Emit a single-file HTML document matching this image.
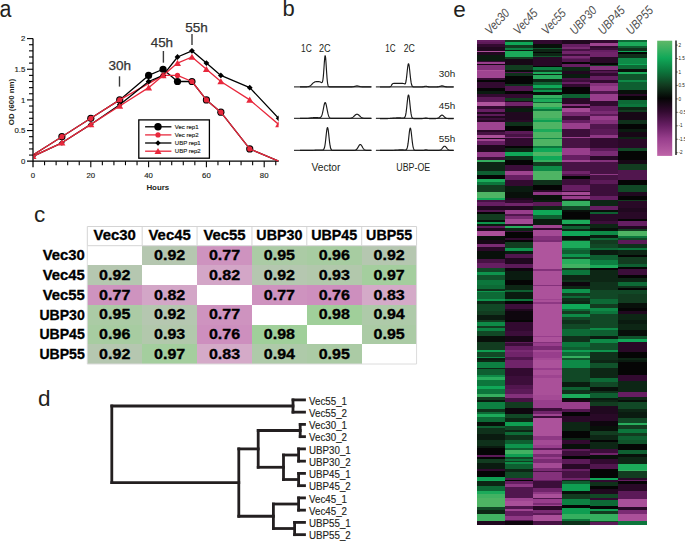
<!DOCTYPE html>
<html><head><meta charset="utf-8"><style>
html,body{margin:0;padding:0;background:#fff;}
svg{display:block;font-family:"Liberation Sans", sans-serif;}
</style></head><body>
<svg width="685" height="542" viewBox="0 0 685 542">
<rect x="0" y="0" width="685" height="542" fill="#fff"/>
<text x="-0.40" y="16.60" font-size="23" fill="#231f20" font-weight="normal" text-anchor="start" textLength="11.9" lengthAdjust="spacingAndGlyphs" >a</text>
<text x="282.60" y="15.80" font-size="22" fill="#231f20" font-weight="normal" text-anchor="start" >b</text>
<text x="34.00" y="221.60" font-size="22.5" fill="#231f20" font-weight="normal" text-anchor="start" >c</text>
<text x="38.00" y="406.00" font-size="22.5" fill="#231f20" font-weight="normal" text-anchor="start" >d</text>
<text x="453.20" y="16.50" font-size="22.5" fill="#231f20" font-weight="normal" text-anchor="start" >e</text>
<line x1="33.0" y1="38.60" x2="33.0" y2="167.20" stroke="#000" stroke-width="1.25"/>
<line x1="27.0" y1="161.2" x2="278.65" y2="161.2" stroke="#000" stroke-width="1.25"/>
<line x1="29.0" y1="155.07" x2="33.0" y2="155.07" stroke="#000" stroke-width="1.1"/>
<line x1="29.0" y1="148.94" x2="33.0" y2="148.94" stroke="#000" stroke-width="1.1"/>
<line x1="29.0" y1="142.81" x2="33.0" y2="142.81" stroke="#000" stroke-width="1.1"/>
<line x1="29.0" y1="136.68" x2="33.0" y2="136.68" stroke="#000" stroke-width="1.1"/>
<line x1="27.0" y1="130.55" x2="33.0" y2="130.55" stroke="#000" stroke-width="1.1"/>
<line x1="29.0" y1="124.42" x2="33.0" y2="124.42" stroke="#000" stroke-width="1.1"/>
<line x1="29.0" y1="118.29" x2="33.0" y2="118.29" stroke="#000" stroke-width="1.1"/>
<line x1="29.0" y1="112.16" x2="33.0" y2="112.16" stroke="#000" stroke-width="1.1"/>
<line x1="29.0" y1="106.03" x2="33.0" y2="106.03" stroke="#000" stroke-width="1.1"/>
<line x1="27.0" y1="99.90" x2="33.0" y2="99.90" stroke="#000" stroke-width="1.1"/>
<line x1="29.0" y1="93.77" x2="33.0" y2="93.77" stroke="#000" stroke-width="1.1"/>
<line x1="29.0" y1="87.64" x2="33.0" y2="87.64" stroke="#000" stroke-width="1.1"/>
<line x1="29.0" y1="81.51" x2="33.0" y2="81.51" stroke="#000" stroke-width="1.1"/>
<line x1="29.0" y1="75.38" x2="33.0" y2="75.38" stroke="#000" stroke-width="1.1"/>
<line x1="27.0" y1="69.25" x2="33.0" y2="69.25" stroke="#000" stroke-width="1.1"/>
<line x1="29.0" y1="63.12" x2="33.0" y2="63.12" stroke="#000" stroke-width="1.1"/>
<line x1="29.0" y1="56.99" x2="33.0" y2="56.99" stroke="#000" stroke-width="1.1"/>
<line x1="29.0" y1="50.86" x2="33.0" y2="50.86" stroke="#000" stroke-width="1.1"/>
<line x1="29.0" y1="44.73" x2="33.0" y2="44.73" stroke="#000" stroke-width="1.1"/>
<line x1="27.0" y1="38.60" x2="33.0" y2="38.60" stroke="#000" stroke-width="1.1"/>
<line x1="44.56" y1="161.2" x2="44.56" y2="165.2" stroke="#000" stroke-width="1.1"/>
<line x1="56.12" y1="161.2" x2="56.12" y2="165.2" stroke="#000" stroke-width="1.1"/>
<line x1="67.68" y1="161.2" x2="67.68" y2="165.2" stroke="#000" stroke-width="1.1"/>
<line x1="79.24" y1="161.2" x2="79.24" y2="165.2" stroke="#000" stroke-width="1.1"/>
<line x1="90.80" y1="161.2" x2="90.80" y2="167.2" stroke="#000" stroke-width="1.1"/>
<line x1="102.36" y1="161.2" x2="102.36" y2="165.2" stroke="#000" stroke-width="1.1"/>
<line x1="113.92" y1="161.2" x2="113.92" y2="165.2" stroke="#000" stroke-width="1.1"/>
<line x1="125.48" y1="161.2" x2="125.48" y2="165.2" stroke="#000" stroke-width="1.1"/>
<line x1="137.04" y1="161.2" x2="137.04" y2="165.2" stroke="#000" stroke-width="1.1"/>
<line x1="148.60" y1="161.2" x2="148.60" y2="167.2" stroke="#000" stroke-width="1.1"/>
<line x1="160.16" y1="161.2" x2="160.16" y2="165.2" stroke="#000" stroke-width="1.1"/>
<line x1="171.72" y1="161.2" x2="171.72" y2="165.2" stroke="#000" stroke-width="1.1"/>
<line x1="183.28" y1="161.2" x2="183.28" y2="165.2" stroke="#000" stroke-width="1.1"/>
<line x1="194.84" y1="161.2" x2="194.84" y2="165.2" stroke="#000" stroke-width="1.1"/>
<line x1="206.40" y1="161.2" x2="206.40" y2="167.2" stroke="#000" stroke-width="1.1"/>
<line x1="217.96" y1="161.2" x2="217.96" y2="165.2" stroke="#000" stroke-width="1.1"/>
<line x1="229.52" y1="161.2" x2="229.52" y2="165.2" stroke="#000" stroke-width="1.1"/>
<line x1="241.08" y1="161.2" x2="241.08" y2="165.2" stroke="#000" stroke-width="1.1"/>
<line x1="252.64" y1="161.2" x2="252.64" y2="165.2" stroke="#000" stroke-width="1.1"/>
<line x1="264.20" y1="161.2" x2="264.20" y2="167.2" stroke="#000" stroke-width="1.1"/>
<line x1="275.76" y1="161.2" x2="275.76" y2="165.2" stroke="#000" stroke-width="1.1"/>
<text x="25.30" y="164.00" font-size="7.8" fill="#231f20" font-weight="normal" text-anchor="end" stroke="#231f20" stroke-width="0.15">0</text>
<text x="25.30" y="133.35" font-size="7.8" fill="#231f20" font-weight="normal" text-anchor="end" stroke="#231f20" stroke-width="0.15">0.5</text>
<text x="25.30" y="102.70" font-size="7.8" fill="#231f20" font-weight="normal" text-anchor="end" stroke="#231f20" stroke-width="0.15">1</text>
<text x="25.30" y="72.05" font-size="7.8" fill="#231f20" font-weight="normal" text-anchor="end" stroke="#231f20" stroke-width="0.15">1.5</text>
<text x="25.30" y="41.40" font-size="7.8" fill="#231f20" font-weight="normal" text-anchor="end" stroke="#231f20" stroke-width="0.15">2</text>
<text x="33.00" y="177.50" font-size="7.8" fill="#231f20" font-weight="normal" text-anchor="middle" stroke="#231f20" stroke-width="0.15">0</text>
<text x="90.80" y="177.50" font-size="7.8" fill="#231f20" font-weight="normal" text-anchor="middle" stroke="#231f20" stroke-width="0.15">20</text>
<text x="148.60" y="177.50" font-size="7.8" fill="#231f20" font-weight="normal" text-anchor="middle" stroke="#231f20" stroke-width="0.15">40</text>
<text x="206.40" y="177.50" font-size="7.8" fill="#231f20" font-weight="normal" text-anchor="middle" stroke="#231f20" stroke-width="0.15">60</text>
<text x="264.20" y="177.50" font-size="7.8" fill="#231f20" font-weight="normal" text-anchor="middle" stroke="#231f20" stroke-width="0.15">80</text>
<text x="157.80" y="190.00" font-size="7.9" fill="#231f20" font-weight="bold" text-anchor="middle" >Hours</text>
<text transform="translate(13.6,102) rotate(-90)" x="0" y="0" font-size="7.9" font-weight="bold" fill="#231f20" text-anchor="middle">OD (600 nm)</text>
<text x="108.40" y="70.20" font-size="13" fill="#333333" font-weight="normal" text-anchor="start" textLength="22.6" lengthAdjust="spacingAndGlyphs" stroke="#333333" stroke-width="0.25">30h</text>
<text x="150.70" y="46.90" font-size="13" fill="#333333" font-weight="normal" text-anchor="start" textLength="22.4" lengthAdjust="spacingAndGlyphs" stroke="#333333" stroke-width="0.25">45h</text>
<text x="185.30" y="31.60" font-size="13" fill="#333333" font-weight="normal" text-anchor="start" textLength="22.6" lengthAdjust="spacingAndGlyphs" stroke="#333333" stroke-width="0.25">55h</text>
<line x1="119.5" y1="76.3" x2="119.5" y2="86.6" stroke="#3a3a3a" stroke-width="1.4"/>
<line x1="163.4" y1="51.0" x2="163.4" y2="62.7" stroke="#3a3a3a" stroke-width="1.4"/>
<line x1="192.0" y1="33.9" x2="192.0" y2="45.1" stroke="#3a3a3a" stroke-width="1.4"/>
<defs><clipPath id="pa"><rect x="33.6" y="0" width="245.0" height="200"/></clipPath></defs>
<g clip-path="url(#pa)">
<polyline points="33.00,155.07 61.90,136.68 90.80,118.29 119.70,99.90 148.60,75.38 163.05,69.25 177.50,81.51 191.95,81.51 206.40,99.90 220.85,112.16 249.75,148.94 278.65,161.20" fill="none" stroke="#000" stroke-width="1.3" stroke-linejoin="round"/>
<circle cx="61.90" cy="136.68" r="3.6" fill="#000"/>
<circle cx="90.80" cy="118.29" r="3.6" fill="#000"/>
<circle cx="119.70" cy="99.90" r="3.6" fill="#000"/>
<circle cx="148.60" cy="75.38" r="3.6" fill="#000"/>
<circle cx="163.05" cy="69.25" r="3.6" fill="#000"/>
<circle cx="177.50" cy="81.51" r="3.6" fill="#000"/>
<circle cx="191.95" cy="81.51" r="3.6" fill="#000"/>
<circle cx="206.40" cy="99.90" r="3.6" fill="#000"/>
<circle cx="220.85" cy="112.16" r="3.6" fill="#000"/>
<circle cx="249.75" cy="148.94" r="3.6" fill="#000"/>
<polyline points="33.00,155.07 61.90,136.68 90.80,118.29 119.70,99.90 163.05,75.38 177.50,75.38 191.95,81.51 206.40,99.90 220.85,112.16 249.75,148.94 278.65,161.20" fill="none" stroke="#e8283c" stroke-width="1.3" stroke-linejoin="round"/>
<circle cx="61.90" cy="136.68" r="2.6" fill="#e8283c"/>
<circle cx="90.80" cy="118.29" r="2.6" fill="#e8283c"/>
<circle cx="119.70" cy="99.90" r="2.6" fill="#e8283c"/>
<circle cx="163.05" cy="75.38" r="2.6" fill="#e8283c"/>
<circle cx="177.50" cy="75.38" r="2.6" fill="#e8283c"/>
<circle cx="191.95" cy="81.51" r="2.6" fill="#e8283c"/>
<circle cx="206.40" cy="99.90" r="2.6" fill="#e8283c"/>
<circle cx="220.85" cy="112.16" r="2.6" fill="#e8283c"/>
<circle cx="249.75" cy="148.94" r="2.6" fill="#e8283c"/>
<polyline points="33.00,156.30 61.90,142.81 90.80,124.42 119.70,104.80 148.60,81.51 163.05,75.38 177.50,56.99 191.95,50.86 206.40,63.12 220.85,75.38 249.75,87.64 278.65,118.29" fill="none" stroke="#000" stroke-width="1.3" stroke-linejoin="round"/>
<path d="M33.00,153.40 L35.90,156.30 L33.00,159.20 L30.10,156.30 Z" fill="#000"/>
<path d="M61.90,139.91 L64.80,142.81 L61.90,145.71 L59.00,142.81 Z" fill="#000"/>
<path d="M90.80,121.52 L93.70,124.42 L90.80,127.32 L87.90,124.42 Z" fill="#000"/>
<path d="M119.70,101.90 L122.60,104.80 L119.70,107.70 L116.80,104.80 Z" fill="#000"/>
<path d="M148.60,78.61 L151.50,81.51 L148.60,84.41 L145.70,81.51 Z" fill="#000"/>
<path d="M163.05,72.48 L165.95,75.38 L163.05,78.28 L160.15,75.38 Z" fill="#000"/>
<path d="M177.50,54.09 L180.40,56.99 L177.50,59.89 L174.60,56.99 Z" fill="#000"/>
<path d="M191.95,47.96 L194.85,50.86 L191.95,53.76 L189.05,50.86 Z" fill="#000"/>
<path d="M206.40,60.22 L209.30,63.12 L206.40,66.02 L203.50,63.12 Z" fill="#000"/>
<path d="M220.85,72.48 L223.75,75.38 L220.85,78.28 L217.95,75.38 Z" fill="#000"/>
<path d="M249.75,84.74 L252.65,87.64 L249.75,90.54 L246.85,87.64 Z" fill="#000"/>
<path d="M278.65,115.39 L281.55,118.29 L278.65,121.19 L275.75,118.29 Z" fill="#000"/>
<polyline points="33.00,156.30 61.90,142.81 90.80,124.42 119.70,106.03 148.60,87.64 163.05,75.38 177.50,63.12 191.95,56.99 206.40,69.25 220.85,81.51 249.75,99.90 278.65,124.42" fill="none" stroke="#e8283c" stroke-width="1.3" stroke-linejoin="round"/>
<path d="M33.00,153.00 L36.50,159.10 L29.50,159.10 Z" fill="#e8283c"/>
<path d="M61.90,139.51 L65.40,145.61 L58.40,145.61 Z" fill="#e8283c"/>
<path d="M90.80,121.12 L94.30,127.22 L87.30,127.22 Z" fill="#e8283c"/>
<path d="M119.70,102.73 L123.20,108.83 L116.20,108.83 Z" fill="#e8283c"/>
<path d="M148.60,84.34 L152.10,90.44 L145.10,90.44 Z" fill="#e8283c"/>
<path d="M163.05,72.08 L166.55,78.18 L159.55,78.18 Z" fill="#e8283c"/>
<path d="M177.50,59.82 L181.00,65.92 L174.00,65.92 Z" fill="#e8283c"/>
<path d="M191.95,53.69 L195.45,59.79 L188.45,59.79 Z" fill="#e8283c"/>
<path d="M206.40,65.95 L209.90,72.05 L202.90,72.05 Z" fill="#e8283c"/>
<path d="M220.85,78.21 L224.35,84.31 L217.35,84.31 Z" fill="#e8283c"/>
<path d="M249.75,96.60 L253.25,102.70 L246.25,102.70 Z" fill="#e8283c"/>
<path d="M278.65,121.12 L282.15,127.22 L275.15,127.22 Z" fill="#e8283c"/>
</g>
<rect x="138.8" y="119.9" width="70.6" height="38.3" fill="#fff" stroke="#000" stroke-width="1.3"/>
<line x1="145.1" y1="126.8" x2="171.4" y2="126.8" stroke="#000" stroke-width="1.3"/>
<circle cx="158" cy="126.8" r="3.7" fill="#000"/>
<text x="174.80" y="128.90" font-size="6.0" fill="#231f20" font-weight="normal" text-anchor="start" stroke="#231f20" stroke-width="0.15">Vec rep1</text>
<line x1="145.1" y1="134.9" x2="171.4" y2="134.9" stroke="#e8283c" stroke-width="1.3"/>
<circle cx="158" cy="134.9" r="2.6" fill="#e8283c"/>
<text x="174.80" y="137.00" font-size="6.0" fill="#231f20" font-weight="normal" text-anchor="start" stroke="#231f20" stroke-width="0.15">Vec rep2</text>
<line x1="145.1" y1="143.0" x2="171.4" y2="143.0" stroke="#000" stroke-width="1.3"/>
<path d="M158.00,140.30 L160.70,143.00 L158.00,145.70 L155.30,143.00 Z" fill="#000"/>
<text x="174.80" y="145.10" font-size="6.0" fill="#231f20" font-weight="normal" text-anchor="start" stroke="#231f20" stroke-width="0.15">UBP rep1</text>
<line x1="145.1" y1="151.2" x2="171.4" y2="151.2" stroke="#e8283c" stroke-width="1.3"/>
<path d="M158.00,147.90 L161.50,154.00 L154.50,154.00 Z" fill="#e8283c"/>
<text x="174.80" y="153.30" font-size="6.0" fill="#231f20" font-weight="normal" text-anchor="start" stroke="#231f20" stroke-width="0.15">UBP rep2</text>
<line x1="294" y1="86.9" x2="371.7" y2="86.9" stroke="#3c3c3c" stroke-width="1.3"/>
<line x1="375.9" y1="86.9" x2="453.8" y2="86.9" stroke="#3c3c3c" stroke-width="1.3"/>
<line x1="294" y1="118.4" x2="371.7" y2="118.4" stroke="#3c3c3c" stroke-width="1.3"/>
<line x1="375.9" y1="118.4" x2="453.8" y2="118.4" stroke="#3c3c3c" stroke-width="1.3"/>
<line x1="294" y1="150.4" x2="371.7" y2="150.4" stroke="#3c3c3c" stroke-width="1.3"/>
<line x1="375.9" y1="150.4" x2="453.8" y2="150.4" stroke="#3c3c3c" stroke-width="1.3"/>
<polyline points="300.00,86.90 300.33,86.90 300.67,86.90 301.00,86.90 301.33,86.90 301.67,86.90 302.00,86.90 302.33,86.90 302.67,86.90 303.00,86.89 303.33,86.89 303.67,86.89 304.00,86.89 304.33,86.88 304.67,86.88 305.00,86.87 305.33,86.87 305.67,86.86 306.00,86.85 306.33,86.83 306.67,86.81 307.00,86.78 307.33,86.75 307.67,86.71 308.00,86.66 308.33,86.59 308.67,86.51 309.00,86.40 309.33,86.27 309.67,86.12 310.00,85.93 310.33,85.71 310.67,85.45 311.00,85.16 311.33,84.84 311.67,84.50 312.00,84.15 312.33,83.80 312.67,83.46 313.00,83.14 313.33,82.85 313.67,82.60 314.00,82.38 314.33,82.19 314.67,82.03 315.00,81.91 315.33,81.81 315.67,81.73 316.00,81.67 316.33,81.62 316.67,81.59 317.00,81.57 317.33,81.56 317.67,81.56 318.00,81.57 318.33,81.59 318.67,81.62 319.00,81.67 319.33,81.73 319.67,81.81 320.00,81.91 320.33,82.03 320.67,82.18 321.00,82.34 321.33,82.49 321.67,82.58 322.00,82.51 322.33,82.10 322.67,81.11 323.00,79.26 323.33,76.33 323.67,72.30 324.00,67.46 324.33,62.49 324.67,58.32 325.00,55.89 325.33,55.82 325.67,58.18 326.00,62.46 326.33,67.74 326.67,73.07 327.00,77.70 327.33,81.25 327.67,83.70 328.00,85.21 328.33,86.07 328.67,86.51 329.00,86.72 329.33,86.81 329.67,86.85 330.00,86.87 330.33,86.88 330.67,86.88 331.00,86.89 331.33,86.89 331.67,86.89 332.00,86.89 332.33,86.90 332.67,86.90 333.00,86.90 333.33,86.90 333.67,86.90 334.00,86.90 334.33,86.90 334.67,86.90 335.00,86.90 335.33,86.90 335.67,86.90 336.00,86.90 336.33,86.90 336.67,86.90 337.00,86.90 337.33,86.90 337.67,86.90 338.00,86.90 338.33,86.90 338.67,86.90 339.00,86.90 339.33,86.90 339.67,86.90 340.00,86.90 340.33,86.90 340.67,86.90 341.00,86.90 341.33,86.90 341.67,86.90 342.00,86.90 342.33,86.90 342.67,86.90 343.00,86.90 343.33,86.90 343.67,86.90 344.00,86.90 344.33,86.90 344.67,86.90 345.00,86.90 345.33,86.90 345.67,86.90 346.00,86.90 346.33,86.90 346.67,86.90 347.00,86.90 347.33,86.90 347.67,86.90 348.00,86.90 348.33,86.90 348.67,86.90 349.00,86.90 349.33,86.90 349.67,86.90 350.00,86.90 350.33,86.90 350.67,86.89 351.00,86.89 351.33,86.88 351.67,86.87 352.00,86.86 352.33,86.83 352.67,86.80 353.00,86.76 353.33,86.71 353.67,86.65 354.00,86.58 354.33,86.49 354.67,86.39 355.00,86.29 355.33,86.19 355.67,86.10 356.00,86.02 356.33,85.95 356.67,85.91 357.00,85.90 357.33,85.91 357.67,85.95 358.00,86.02 358.33,86.10 358.67,86.19 359.00,86.29 359.33,86.39 359.67,86.49 360.00,86.58 360.33,86.65 360.67,86.71 361.00,86.76 361.33,86.80 361.67,86.83 362.00,86.86 362.33,86.87 362.67,86.88 363.00,86.89 363.33,86.89 363.67,86.90 364.00,86.90 364.33,86.90 364.67,86.90 365.00,86.90 365.33,86.90 365.67,86.90 366.00,86.90 366.33,86.90 366.67,86.90 367.00,86.90 367.33,86.90 367.67,86.90 368.00,86.90 368.33,86.90 368.67,86.90 369.00,86.90 369.33,86.90 369.67,86.90 370.00,86.90 370.33,86.90 370.67,86.90 371.00,86.90" fill="none" stroke="#1a1a1a" stroke-width="1.15" stroke-linejoin="round"/>
<polyline points="300.00,118.40 300.33,118.40 300.67,118.40 301.00,118.40 301.33,118.40 301.67,118.40 302.00,118.40 302.33,118.40 302.67,118.39 303.00,118.39 303.33,118.39 303.67,118.39 304.00,118.39 304.33,118.38 304.67,118.38 305.00,118.37 305.33,118.37 305.67,118.36 306.00,118.35 306.33,118.34 306.67,118.32 307.00,118.30 307.33,118.28 307.67,118.26 308.00,118.23 308.33,118.20 308.67,118.17 309.00,118.13 309.33,118.09 309.67,118.04 310.00,118.00 310.33,117.96 310.67,117.91 311.00,117.87 311.33,117.83 311.67,117.80 312.00,117.77 312.33,117.74 312.67,117.72 313.00,117.70 313.33,117.68 313.67,117.67 314.00,117.66 314.33,117.65 314.67,117.65 315.00,117.64 315.33,117.64 315.67,117.64 316.00,117.64 316.33,117.65 316.67,117.65 317.00,117.66 317.33,117.67 317.67,117.68 318.00,117.69 318.33,117.71 318.67,117.72 319.00,117.73 319.33,117.72 319.67,117.69 320.00,117.63 320.33,117.50 320.67,117.29 321.00,116.96 321.33,116.47 321.67,115.79 322.00,114.88 322.33,113.72 322.67,112.33 323.00,110.75 323.33,109.03 323.67,107.29 324.00,105.65 324.33,104.25 324.67,103.21 325.00,102.65 325.33,102.60 325.67,103.09 326.00,104.06 326.33,105.42 326.67,107.05 327.00,108.80 327.33,110.56 327.67,112.21 328.00,113.68 328.33,114.92 328.67,115.92 329.00,116.69 329.33,117.27 329.67,117.67 330.00,117.95 330.33,118.13 330.67,118.24 331.00,118.31 331.33,118.35 331.67,118.37 332.00,118.39 332.33,118.39 332.67,118.40 333.00,118.40 333.33,118.40 333.67,118.40 334.00,118.40 334.33,118.40 334.67,118.40 335.00,118.40 335.33,118.40 335.67,118.40 336.00,118.40 336.33,118.40 336.67,118.40 337.00,118.40 337.33,118.40 337.67,118.40 338.00,118.40 338.33,118.40 338.67,118.40 339.00,118.40 339.33,118.40 339.67,118.40 340.00,118.40 340.33,118.40 340.67,118.40 341.00,118.40 341.33,118.40 341.67,118.40 342.00,118.40 342.33,118.40 342.67,118.40 343.00,118.40 343.33,118.40 343.67,118.40 344.00,118.40 344.33,118.40 344.67,118.40 345.00,118.40 345.33,118.40 345.67,118.40 346.00,118.40 346.33,118.40 346.67,118.40 347.00,118.40 347.33,118.40 347.67,118.39 348.00,118.39 348.33,118.38 348.67,118.38 349.00,118.36 349.33,118.35 349.67,118.32 350.00,118.29 350.33,118.24 350.67,118.18 351.00,118.11 351.33,118.01 351.67,117.89 352.00,117.74 352.33,117.56 352.67,117.35 353.00,117.11 353.33,116.85 353.67,116.55 354.00,116.24 354.33,115.92 354.67,115.59 355.00,115.28 355.33,114.98 355.67,114.72 356.00,114.50 356.33,114.34 356.67,114.23 357.00,114.20 357.33,114.23 357.67,114.34 358.00,114.50 358.33,114.72 358.67,114.98 359.00,115.28 359.33,115.59 359.67,115.92 360.00,116.24 360.33,116.55 360.67,116.85 361.00,117.11 361.33,117.35 361.67,117.56 362.00,117.74 362.33,117.89 362.67,118.01 363.00,118.11 363.33,118.18 363.67,118.24 364.00,118.29 364.33,118.32 364.67,118.35 365.00,118.36 365.33,118.38 365.67,118.38 366.00,118.39 366.33,118.39 366.67,118.40 367.00,118.40 367.33,118.40 367.67,118.40 368.00,118.40 368.33,118.40 368.67,118.40 369.00,118.40 369.33,118.40 369.67,118.40 370.00,118.40 370.33,118.40 370.67,118.40 371.00,118.40" fill="none" stroke="#1a1a1a" stroke-width="1.15" stroke-linejoin="round"/>
<polyline points="300.00,150.40 300.33,150.40 300.67,150.40 301.00,150.40 301.33,150.40 301.67,150.40 302.00,150.40 302.33,150.40 302.67,150.40 303.00,150.40 303.33,150.40 303.67,150.40 304.00,150.40 304.33,150.40 304.67,150.40 305.00,150.40 305.33,150.40 305.67,150.40 306.00,150.40 306.33,150.40 306.67,150.40 307.00,150.40 307.33,150.40 307.67,150.40 308.00,150.40 308.33,150.39 308.67,150.39 309.00,150.39 309.33,150.39 309.67,150.39 310.00,150.38 310.33,150.38 310.67,150.37 311.00,150.37 311.33,150.36 311.67,150.35 312.00,150.34 312.33,150.33 312.67,150.31 313.00,150.30 313.33,150.28 313.67,150.25 314.00,150.23 314.33,150.20 314.67,150.18 315.00,150.15 315.33,150.12 315.67,150.10 316.00,150.07 316.33,150.05 316.67,150.03 317.00,150.01 317.33,149.99 317.67,149.98 318.00,149.97 318.33,149.96 318.67,149.95 319.00,149.95 319.33,149.95 319.67,149.95 320.00,149.95 320.33,149.95 320.67,149.96 321.00,149.97 321.33,149.98 321.67,149.98 322.00,149.99 322.33,149.99 322.67,149.96 323.00,149.89 323.33,149.73 323.67,149.43 324.00,148.91 324.33,148.07 324.67,146.81 325.00,145.05 325.33,142.76 325.67,139.98 326.00,136.88 326.33,133.75 326.67,130.91 327.00,128.76 327.33,127.60 327.67,127.61 328.00,128.79 328.33,130.96 328.67,133.81 329.00,136.97 329.33,140.09 329.67,142.89 330.00,145.21 330.33,147.00 330.67,148.28 331.00,149.15 331.33,149.70 331.67,150.03 332.00,150.21 332.33,150.31 332.67,150.36 333.00,150.38 333.33,150.39 333.67,150.40 334.00,150.40 334.33,150.40 334.67,150.40 335.00,150.40 335.33,150.40 335.67,150.40 336.00,150.40 336.33,150.40 336.67,150.40 337.00,150.40 337.33,150.40 337.67,150.40 338.00,150.40 338.33,150.40 338.67,150.40 339.00,150.40 339.33,150.40 339.67,150.40 340.00,150.40 340.33,150.40 340.67,150.40 341.00,150.40 341.33,150.40 341.67,150.40 342.00,150.40 342.33,150.40 342.67,150.40 343.00,150.40 343.33,150.40 343.67,150.40 344.00,150.40 344.33,150.40 344.67,150.40 345.00,150.40 345.33,150.40 345.67,150.40 346.00,150.40 346.33,150.40 346.67,150.40 347.00,150.40 347.33,150.40 347.67,150.40 348.00,150.40 348.33,150.40 348.67,150.40 349.00,150.40 349.33,150.40 349.67,150.40 350.00,150.40 350.33,150.40 350.67,150.40 351.00,150.40 351.33,150.40 351.67,150.40 352.00,150.40 352.33,150.40 352.67,150.40 353.00,150.39 353.33,150.39 353.67,150.38 354.00,150.36 354.33,150.33 354.67,150.29 355.00,150.22 355.33,150.13 355.67,150.00 356.00,149.82 356.33,149.57 356.67,149.27 357.00,148.89 357.33,148.44 357.67,147.92 358.00,147.35 358.33,146.76 358.67,146.17 359.00,145.62 359.33,145.15 359.67,144.79 360.00,144.57 360.33,144.50 360.67,144.60 361.00,144.85 361.33,145.24 361.67,145.73 362.00,146.29 362.33,146.88 362.67,147.47 363.00,148.03 363.33,148.53 363.67,148.97 364.00,149.33 364.33,149.63 364.67,149.86 365.00,150.03 365.33,150.15 365.67,150.24 366.00,150.30 366.33,150.34 366.67,150.36 367.00,150.38 367.33,150.39 367.67,150.39 368.00,150.40 368.33,150.40 368.67,150.40 369.00,150.40 369.33,150.40 369.67,150.40 370.00,150.40 370.33,150.40 370.67,150.40 371.00,150.40" fill="none" stroke="#1a1a1a" stroke-width="1.15" stroke-linejoin="round"/>
<polyline points="380.00,87.00 380.33,87.00 380.67,87.00 381.00,87.00 381.34,87.00 381.67,87.00 382.00,87.00 382.34,87.00 382.67,87.00 383.01,87.00 383.34,87.00 383.68,87.00 384.01,87.00 384.34,87.00 384.68,87.00 385.01,87.00 385.35,87.00 385.68,87.00 386.01,87.00 386.35,87.00 386.68,87.00 387.02,87.00 387.35,87.00 387.68,87.00 388.02,87.00 388.35,86.99 388.69,86.99 389.02,86.97 389.35,86.95 389.69,86.91 390.02,86.82 390.36,86.67 390.69,86.40 391.02,86.00 391.36,85.45 391.69,84.86 392.03,84.33 392.36,83.95 392.70,83.70 393.03,83.56 393.36,83.48 393.70,83.44 394.03,83.42 394.37,83.41 394.70,83.41 395.03,83.40 395.37,83.40 395.70,83.40 396.04,83.40 396.37,83.40 396.70,83.40 397.04,83.40 397.37,83.40 397.71,83.40 398.04,83.40 398.38,83.40 398.71,83.40 399.04,83.40 399.38,83.40 399.71,83.40 400.05,83.40 400.38,83.40 400.71,83.40 401.05,83.40 401.38,83.40 401.72,83.40 402.05,83.41 402.38,83.42 402.72,83.43 403.05,83.45 403.39,83.49 403.72,83.56 404.05,83.66 404.39,83.80 404.72,83.93 405.06,83.91 405.39,83.53 405.73,82.58 406.06,80.96 406.39,78.68 406.73,75.85 407.06,72.70 407.40,69.54 407.73,66.75 408.06,64.72 408.40,63.75 408.73,63.99 409.07,65.41 409.40,67.78 409.73,70.78 410.07,74.02 410.40,77.15 410.74,79.91 411.07,82.16 411.40,83.87 411.74,85.08 412.07,85.88 412.41,86.38 412.74,86.68 413.07,86.84 413.41,86.92 413.74,86.97 414.08,86.99 414.41,86.99 414.75,87.00 415.08,87.00 415.41,87.00 415.75,87.00 416.08,87.00 416.42,87.00 416.75,87.00 417.08,87.00 417.42,87.00 417.75,87.00 418.09,87.00 418.42,87.00 418.75,87.00 419.09,87.00 419.42,87.00 419.76,87.00 420.09,87.00 420.43,87.00 420.76,87.00 421.09,86.99 421.43,86.99 421.76,86.98 422.10,86.96 422.43,86.94 422.76,86.90 423.10,86.84 423.43,86.77 423.77,86.68 424.10,86.58 424.43,86.47 424.77,86.37 425.10,86.28 425.44,86.22 425.77,86.20 426.10,86.22 426.44,86.27 426.77,86.35 427.11,86.45 427.44,86.56 427.77,86.66 428.11,86.76 428.44,86.83 428.78,86.89 429.11,86.93 429.45,86.96 429.78,86.98 430.11,86.99 430.45,86.99 430.78,87.00 431.12,87.00 431.45,87.00 431.78,87.00 432.12,87.00 432.45,87.00 432.79,87.00 433.12,87.00 433.45,87.00 433.79,87.00 434.12,87.00 434.46,87.00 434.79,87.00 435.12,87.00 435.46,86.99 435.79,86.99 436.13,86.99 436.46,86.98 436.80,86.96 437.13,86.94 437.46,86.92 437.80,86.88 438.13,86.83 438.47,86.77 438.80,86.69 439.13,86.61 439.47,86.51 439.80,86.40 440.14,86.29 440.47,86.18 440.80,86.08 441.14,86.00 441.47,85.94 441.81,85.91 442.14,85.90 442.48,85.93 442.81,85.99 443.14,86.07 443.48,86.16 443.81,86.27 444.15,86.38 444.48,86.49 444.81,86.59 445.15,86.68 445.48,86.76 445.82,86.82 446.15,86.87 446.48,86.91 446.82,86.94 447.15,86.96 447.49,86.97 447.82,86.98 448.15,86.99 448.49,86.99 448.82,87.00 449.16,87.00 449.49,87.00 449.82,87.00 450.16,87.00 450.49,87.00 450.83,87.00 451.16,87.00 451.50,87.00 451.83,87.00 452.16,87.00 452.50,87.00 452.83,87.00 453.17,87.00 453.50,87.00" fill="none" stroke="#1a1a1a" stroke-width="1.15" stroke-linejoin="round"/>
<polyline points="380.00,118.60 380.33,118.60 380.67,118.60 381.00,118.60 381.34,118.60 381.67,118.60 382.00,118.60 382.34,118.60 382.67,118.60 383.01,118.60 383.34,118.60 383.68,118.60 384.01,118.60 384.34,118.60 384.68,118.59 385.01,118.59 385.35,118.59 385.68,118.59 386.01,118.59 386.35,118.58 386.68,118.58 387.02,118.58 387.35,118.57 387.68,118.56 388.02,118.55 388.35,118.54 388.69,118.53 389.02,118.52 389.35,118.50 389.69,118.48 390.02,118.45 390.36,118.42 390.69,118.39 391.02,118.36 391.36,118.32 391.69,118.29 392.03,118.25 392.36,118.21 392.70,118.17 393.03,118.13 393.36,118.10 393.70,118.07 394.03,118.04 394.37,118.02 394.70,118.00 395.03,117.98 395.37,117.97 395.70,117.96 396.04,117.95 396.37,117.94 396.70,117.93 397.04,117.93 397.37,117.92 397.71,117.92 398.04,117.92 398.38,117.92 398.71,117.92 399.04,117.92 399.38,117.92 399.71,117.92 400.05,117.93 400.38,117.93 400.71,117.94 401.05,117.95 401.38,117.96 401.72,117.97 402.05,117.99 402.38,118.00 402.72,118.02 403.05,118.03 403.39,118.03 403.72,118.01 404.05,117.93 404.39,117.76 404.72,117.42 405.06,116.85 405.39,115.93 405.73,114.55 406.06,112.65 406.39,110.19 406.73,107.25 407.06,104.03 407.40,100.83 407.73,98.01 408.06,95.96 408.40,94.99 408.73,95.25 409.07,96.69 409.40,99.10 409.73,102.14 410.07,105.43 410.40,108.60 410.74,111.40 411.07,113.68 411.40,115.42 411.74,116.64 412.07,117.46 412.41,117.97 412.74,118.27 413.07,118.43 413.41,118.52 413.74,118.56 414.08,118.58 414.41,118.59 414.75,118.60 415.08,118.60 415.41,118.60 415.75,118.60 416.08,118.60 416.42,118.60 416.75,118.60 417.08,118.60 417.42,118.60 417.75,118.60 418.09,118.60 418.42,118.60 418.75,118.60 419.09,118.60 419.42,118.60 419.76,118.60 420.09,118.60 420.43,118.60 420.76,118.60 421.09,118.60 421.43,118.59 421.76,118.59 422.10,118.58 422.43,118.56 422.76,118.54 423.10,118.50 423.43,118.46 423.77,118.40 424.10,118.34 424.43,118.27 424.77,118.21 425.10,118.15 425.44,118.11 425.77,118.10 426.10,118.11 426.44,118.14 426.77,118.19 427.11,118.26 427.44,118.33 427.77,118.39 428.11,118.45 428.44,118.49 428.78,118.53 429.11,118.56 429.45,118.57 429.78,118.59 430.11,118.59 430.45,118.60 430.78,118.60 431.12,118.60 431.45,118.60 431.78,118.60 432.12,118.60 432.45,118.60 432.79,118.60 433.12,118.60 433.45,118.60 433.79,118.60 434.12,118.60 434.46,118.60 434.79,118.59 435.12,118.59 435.46,118.58 435.79,118.57 436.13,118.55 436.46,118.52 436.80,118.48 437.13,118.42 437.46,118.33 437.80,118.22 438.13,118.06 438.47,117.87 438.80,117.63 439.13,117.35 439.47,117.03 439.80,116.69 440.14,116.33 440.47,115.99 440.80,115.67 441.14,115.41 441.47,115.22 441.81,115.12 442.14,115.11 442.48,115.20 442.81,115.37 443.14,115.63 443.48,115.94 443.81,116.28 444.15,116.63 444.48,116.98 444.81,117.30 445.15,117.59 445.48,117.83 445.82,118.03 446.15,118.19 446.48,118.32 446.82,118.41 447.15,118.47 447.49,118.52 447.82,118.55 448.15,118.57 448.49,118.58 448.82,118.59 449.16,118.59 449.49,118.60 449.82,118.60 450.16,118.60 450.49,118.60 450.83,118.60 451.16,118.60 451.50,118.60 451.83,118.60 452.16,118.60 452.50,118.60 452.83,118.60 453.17,118.60 453.50,118.60" fill="none" stroke="#1a1a1a" stroke-width="1.15" stroke-linejoin="round"/>
<polyline points="380.00,150.40 380.33,150.40 380.67,150.40 381.00,150.40 381.34,150.40 381.67,150.40 382.00,150.40 382.34,150.40 382.67,150.40 383.01,150.40 383.34,150.40 383.68,150.40 384.01,150.40 384.34,150.40 384.68,150.40 385.01,150.40 385.35,150.40 385.68,150.40 386.01,150.40 386.35,150.40 386.68,150.40 387.02,150.40 387.35,150.40 387.68,150.40 388.02,150.40 388.35,150.39 388.69,150.39 389.02,150.39 389.35,150.39 389.69,150.39 390.02,150.38 390.36,150.38 390.69,150.37 391.02,150.37 391.36,150.36 391.69,150.35 392.03,150.34 392.36,150.33 392.70,150.31 393.03,150.29 393.36,150.27 393.70,150.25 394.03,150.23 394.37,150.20 394.70,150.17 395.03,150.15 395.37,150.12 395.70,150.09 396.04,150.07 396.37,150.04 396.70,150.02 397.04,150.00 397.37,149.99 397.71,149.97 398.04,149.96 398.38,149.95 398.71,149.94 399.04,149.93 399.38,149.93 399.71,149.92 400.05,149.92 400.38,149.92 400.71,149.92 401.05,149.92 401.38,149.92 401.72,149.92 402.05,149.92 402.38,149.93 402.72,149.93 403.05,149.94 403.39,149.94 403.72,149.95 404.05,149.96 404.39,149.97 404.72,149.98 405.06,149.98 405.39,149.96 405.73,149.90 406.06,149.76 406.39,149.51 406.73,149.06 407.06,148.31 407.40,147.18 407.73,145.58 408.06,143.45 408.40,140.83 408.73,137.85 409.07,134.78 409.40,131.92 409.73,129.67 410.07,128.33 410.40,128.11 410.74,129.05 411.07,131.00 411.40,133.69 411.74,136.75 412.07,139.82 412.41,142.63 412.74,144.98 413.07,146.82 413.41,148.15 413.74,149.06 414.08,149.65 414.41,150.00 414.75,150.19 415.08,150.30 415.41,150.35 415.75,150.38 416.08,150.39 416.42,150.40 416.75,150.40 417.08,150.40 417.42,150.40 417.75,150.40 418.09,150.40 418.42,150.40 418.75,150.40 419.09,150.40 419.42,150.40 419.76,150.40 420.09,150.40 420.43,150.40 420.76,150.40 421.09,150.40 421.43,150.40 421.76,150.39 422.10,150.38 422.43,150.37 422.76,150.35 423.10,150.32 423.43,150.28 423.77,150.24 424.10,150.18 424.43,150.11 424.77,150.04 425.10,149.98 425.44,149.93 425.77,149.91 426.10,149.90 426.44,149.92 426.77,149.96 427.11,150.02 427.44,150.08 427.77,150.15 428.11,150.21 428.44,150.27 428.78,150.31 429.11,150.34 429.45,150.36 429.78,150.38 430.11,150.39 430.45,150.39 430.78,150.40 431.12,150.40 431.45,150.40 431.78,150.40 432.12,150.40 432.45,150.40 432.79,150.40 433.12,150.40 433.45,150.40 433.79,150.40 434.12,150.40 434.46,150.40 434.79,150.40 435.12,150.40 435.46,150.40 435.79,150.40 436.13,150.40 436.46,150.40 436.80,150.40 437.13,150.40 437.46,150.39 437.80,150.39 438.13,150.38 438.47,150.36 438.80,150.34 439.13,150.30 439.47,150.24 439.80,150.16 440.14,150.05 440.47,149.90 440.80,149.71 441.14,149.46 441.47,149.16 441.81,148.82 442.14,148.43 442.48,148.01 442.81,147.59 443.14,147.18 443.48,146.81 443.81,146.51 444.15,146.31 444.48,146.21 444.81,146.22 445.15,146.35 445.48,146.59 445.82,146.91 446.15,147.29 446.48,147.71 446.82,148.13 447.15,148.54 447.49,148.92 447.82,149.25 448.15,149.53 448.49,149.77 448.82,149.95 449.16,150.09 449.49,150.19 449.82,150.26 450.16,150.31 450.49,150.35 450.83,150.37 451.16,150.38 451.50,150.39 451.83,150.39 452.16,150.40 452.50,150.40 452.83,150.40 453.17,150.40 453.50,150.40" fill="none" stroke="#1a1a1a" stroke-width="1.15" stroke-linejoin="round"/>
<text x="301.00" y="51.80" font-size="10" fill="#231f20" font-weight="normal" text-anchor="start" textLength="10.7" lengthAdjust="spacingAndGlyphs" >1C</text>
<text x="319.00" y="51.80" font-size="10" fill="#231f20" font-weight="normal" text-anchor="start" textLength="11.7" lengthAdjust="spacingAndGlyphs" >2C</text>
<text x="385.30" y="51.80" font-size="10" fill="#231f20" font-weight="normal" text-anchor="start" textLength="10.3" lengthAdjust="spacingAndGlyphs" >1C</text>
<text x="403.70" y="51.80" font-size="10" fill="#231f20" font-weight="normal" text-anchor="start" textLength="11.2" lengthAdjust="spacingAndGlyphs" >2C</text>
<text x="438.80" y="76.80" font-size="9.6" fill="#231f20" font-weight="normal" text-anchor="start" textLength="16.5" lengthAdjust="spacingAndGlyphs" >30h</text>
<text x="438.80" y="109.30" font-size="9.6" fill="#231f20" font-weight="normal" text-anchor="start" textLength="16.5" lengthAdjust="spacingAndGlyphs" >45h</text>
<text x="438.80" y="141.90" font-size="9.6" fill="#231f20" font-weight="normal" text-anchor="start" textLength="16.5" lengthAdjust="spacingAndGlyphs" >55h</text>
<text x="311.40" y="171.30" font-size="10" fill="#231f20" font-weight="normal" text-anchor="start" textLength="29.1" lengthAdjust="spacingAndGlyphs" >Vector</text>
<text x="396.30" y="171.30" font-size="10" fill="#231f20" font-weight="normal" text-anchor="start" textLength="33.9" lengthAdjust="spacingAndGlyphs" >UBP-OE</text>
<rect x="142" y="246" width="55" height="19" fill="#b5c7b0" shape-rendering="crispEdges"/>
<rect x="197" y="246" width="55" height="19" fill="#ce93bf" shape-rendering="crispEdges"/>
<rect x="252" y="246" width="55" height="19" fill="#abcba5" shape-rendering="crispEdges"/>
<rect x="307" y="246" width="55" height="19" fill="#a7cca1" shape-rendering="crispEdges"/>
<rect x="362" y="246" width="55" height="19" fill="#b5c7b0" shape-rendering="crispEdges"/>
<rect x="87" y="265" width="55" height="20" fill="#b5c7b0" shape-rendering="crispEdges"/>
<rect x="197" y="265" width="55" height="20" fill="#d3a6c7" shape-rendering="crispEdges"/>
<rect x="252" y="265" width="55" height="20" fill="#b5c7b0" shape-rendering="crispEdges"/>
<rect x="307" y="265" width="55" height="20" fill="#b2c8ac" shape-rendering="crispEdges"/>
<rect x="362" y="265" width="55" height="20" fill="#a4ce9e" shape-rendering="crispEdges"/>
<rect x="87" y="285" width="55" height="20" fill="#ce93bf" shape-rendering="crispEdges"/>
<rect x="142" y="285" width="55" height="20" fill="#d3a6c7" shape-rendering="crispEdges"/>
<rect x="252" y="285" width="55" height="20" fill="#ce93bf" shape-rendering="crispEdges"/>
<rect x="307" y="285" width="55" height="20" fill="#cd8fbe" shape-rendering="crispEdges"/>
<rect x="362" y="285" width="55" height="20" fill="#d4aac8" shape-rendering="crispEdges"/>
<rect x="87" y="305" width="55" height="20" fill="#abcba5" shape-rendering="crispEdges"/>
<rect x="142" y="305" width="55" height="20" fill="#b5c7b0" shape-rendering="crispEdges"/>
<rect x="197" y="305" width="55" height="20" fill="#ce93bf" shape-rendering="crispEdges"/>
<rect x="307" y="305" width="55" height="20" fill="#a0cf9a" shape-rendering="crispEdges"/>
<rect x="362" y="305" width="55" height="20" fill="#aecaa9" shape-rendering="crispEdges"/>
<rect x="87" y="325" width="55" height="19" fill="#a7cca1" shape-rendering="crispEdges"/>
<rect x="142" y="325" width="55" height="19" fill="#b2c8ac" shape-rendering="crispEdges"/>
<rect x="197" y="325" width="55" height="19" fill="#cd8fbe" shape-rendering="crispEdges"/>
<rect x="252" y="325" width="55" height="19" fill="#a0cf9a" shape-rendering="crispEdges"/>
<rect x="362" y="325" width="55" height="19" fill="#abcba5" shape-rendering="crispEdges"/>
<rect x="87" y="344" width="55" height="20" fill="#b5c7b0" shape-rendering="crispEdges"/>
<rect x="142" y="344" width="55" height="20" fill="#a4ce9e" shape-rendering="crispEdges"/>
<rect x="197" y="344" width="55" height="20" fill="#d4aac8" shape-rendering="crispEdges"/>
<rect x="252" y="344" width="55" height="20" fill="#aecaa9" shape-rendering="crispEdges"/>
<rect x="307" y="344" width="55" height="20" fill="#abcba5" shape-rendering="crispEdges"/>
<line x1="87.30" y1="226.5" x2="87.30" y2="245.70" stroke="#d4d4d4" stroke-width="1"/>
<line x1="142.18" y1="226.5" x2="142.18" y2="245.70" stroke="#d4d4d4" stroke-width="1"/>
<line x1="197.06" y1="226.5" x2="197.06" y2="245.70" stroke="#d4d4d4" stroke-width="1"/>
<line x1="251.94" y1="226.5" x2="251.94" y2="245.70" stroke="#d4d4d4" stroke-width="1"/>
<line x1="306.82" y1="226.5" x2="306.82" y2="245.70" stroke="#d4d4d4" stroke-width="1"/>
<line x1="361.70" y1="226.5" x2="361.70" y2="245.70" stroke="#d4d4d4" stroke-width="1"/>
<line x1="416.58" y1="226.5" x2="416.58" y2="245.70" stroke="#d4d4d4" stroke-width="1"/>
<line x1="87.3" y1="226.5" x2="416.58" y2="226.5" stroke="#d4d4d4" stroke-width="1"/>
<line x1="87.3" y1="245.7" x2="416.58" y2="245.7" stroke="#d4d4d4" stroke-width="1"/>
<line x1="87.3" y1="245.7" x2="87.3" y2="364.02" stroke="#dcdcdc" stroke-width="1"/>
<line x1="416.58" y1="245.7" x2="416.58" y2="364.02" stroke="#dcdcdc" stroke-width="1"/>
<line x1="87.3" y1="364.02" x2="416.58" y2="364.02" stroke="#dcdcdc" stroke-width="1"/>
<text x="114.74" y="240.30" font-size="14.2" fill="#000" font-weight="bold" text-anchor="middle" textLength="42.2" lengthAdjust="spacingAndGlyphs" stroke="#000" stroke-width="0.3">Vec30</text>
<text x="169.62" y="240.30" font-size="14.2" fill="#000" font-weight="bold" text-anchor="middle" textLength="42.2" lengthAdjust="spacingAndGlyphs" stroke="#000" stroke-width="0.3">Vec45</text>
<text x="224.50" y="240.30" font-size="14.2" fill="#000" font-weight="bold" text-anchor="middle" textLength="42.2" lengthAdjust="spacingAndGlyphs" stroke="#000" stroke-width="0.3">Vec55</text>
<text x="279.38" y="240.30" font-size="14.2" fill="#000" font-weight="bold" text-anchor="middle" textLength="46.0" lengthAdjust="spacingAndGlyphs" stroke="#000" stroke-width="0.3">UBP30</text>
<text x="334.26" y="240.30" font-size="14.2" fill="#000" font-weight="bold" text-anchor="middle" textLength="46.0" lengthAdjust="spacingAndGlyphs" stroke="#000" stroke-width="0.3">UBP45</text>
<text x="389.14" y="240.30" font-size="14.2" fill="#000" font-weight="bold" text-anchor="middle" textLength="46.0" lengthAdjust="spacingAndGlyphs" stroke="#000" stroke-width="0.3">UBP55</text>
<text x="84.80" y="260.40" font-size="14.2" fill="#000" font-weight="bold" text-anchor="end" textLength="42.1" lengthAdjust="spacingAndGlyphs" stroke="#000" stroke-width="0.3">Vec30</text>
<text x="169.62" y="260.20" font-size="14.2" fill="#000" font-weight="bold" text-anchor="middle" textLength="31.2" lengthAdjust="spacingAndGlyphs" stroke="#000" stroke-width="0.3">0.92</text>
<text x="224.50" y="260.20" font-size="14.2" fill="#000" font-weight="bold" text-anchor="middle" textLength="31.2" lengthAdjust="spacingAndGlyphs" stroke="#000" stroke-width="0.3">0.77</text>
<text x="279.38" y="260.20" font-size="14.2" fill="#000" font-weight="bold" text-anchor="middle" textLength="31.2" lengthAdjust="spacingAndGlyphs" stroke="#000" stroke-width="0.3">0.95</text>
<text x="334.26" y="260.20" font-size="14.2" fill="#000" font-weight="bold" text-anchor="middle" textLength="31.2" lengthAdjust="spacingAndGlyphs" stroke="#000" stroke-width="0.3">0.96</text>
<text x="389.14" y="260.20" font-size="14.2" fill="#000" font-weight="bold" text-anchor="middle" textLength="31.2" lengthAdjust="spacingAndGlyphs" stroke="#000" stroke-width="0.3">0.92</text>
<text x="84.80" y="280.12" font-size="14.2" fill="#000" font-weight="bold" text-anchor="end" textLength="42.1" lengthAdjust="spacingAndGlyphs" stroke="#000" stroke-width="0.3">Vec45</text>
<text x="114.74" y="279.92" font-size="14.2" fill="#000" font-weight="bold" text-anchor="middle" textLength="31.2" lengthAdjust="spacingAndGlyphs" stroke="#000" stroke-width="0.3">0.92</text>
<text x="224.50" y="279.92" font-size="14.2" fill="#000" font-weight="bold" text-anchor="middle" textLength="31.2" lengthAdjust="spacingAndGlyphs" stroke="#000" stroke-width="0.3">0.82</text>
<text x="279.38" y="279.92" font-size="14.2" fill="#000" font-weight="bold" text-anchor="middle" textLength="31.2" lengthAdjust="spacingAndGlyphs" stroke="#000" stroke-width="0.3">0.92</text>
<text x="334.26" y="279.92" font-size="14.2" fill="#000" font-weight="bold" text-anchor="middle" textLength="31.2" lengthAdjust="spacingAndGlyphs" stroke="#000" stroke-width="0.3">0.93</text>
<text x="389.14" y="279.92" font-size="14.2" fill="#000" font-weight="bold" text-anchor="middle" textLength="31.2" lengthAdjust="spacingAndGlyphs" stroke="#000" stroke-width="0.3">0.97</text>
<text x="84.80" y="299.84" font-size="14.2" fill="#000" font-weight="bold" text-anchor="end" textLength="42.1" lengthAdjust="spacingAndGlyphs" stroke="#000" stroke-width="0.3">Vec55</text>
<text x="114.74" y="299.64" font-size="14.2" fill="#000" font-weight="bold" text-anchor="middle" textLength="31.2" lengthAdjust="spacingAndGlyphs" stroke="#000" stroke-width="0.3">0.77</text>
<text x="169.62" y="299.64" font-size="14.2" fill="#000" font-weight="bold" text-anchor="middle" textLength="31.2" lengthAdjust="spacingAndGlyphs" stroke="#000" stroke-width="0.3">0.82</text>
<text x="279.38" y="299.64" font-size="14.2" fill="#000" font-weight="bold" text-anchor="middle" textLength="31.2" lengthAdjust="spacingAndGlyphs" stroke="#000" stroke-width="0.3">0.77</text>
<text x="334.26" y="299.64" font-size="14.2" fill="#000" font-weight="bold" text-anchor="middle" textLength="31.2" lengthAdjust="spacingAndGlyphs" stroke="#000" stroke-width="0.3">0.76</text>
<text x="389.14" y="299.64" font-size="14.2" fill="#000" font-weight="bold" text-anchor="middle" textLength="31.2" lengthAdjust="spacingAndGlyphs" stroke="#000" stroke-width="0.3">0.83</text>
<text x="84.80" y="319.56" font-size="14.2" fill="#000" font-weight="bold" text-anchor="end" textLength="45.4" lengthAdjust="spacingAndGlyphs" stroke="#000" stroke-width="0.3">UBP30</text>
<text x="114.74" y="319.36" font-size="14.2" fill="#000" font-weight="bold" text-anchor="middle" textLength="31.2" lengthAdjust="spacingAndGlyphs" stroke="#000" stroke-width="0.3">0.95</text>
<text x="169.62" y="319.36" font-size="14.2" fill="#000" font-weight="bold" text-anchor="middle" textLength="31.2" lengthAdjust="spacingAndGlyphs" stroke="#000" stroke-width="0.3">0.92</text>
<text x="224.50" y="319.36" font-size="14.2" fill="#000" font-weight="bold" text-anchor="middle" textLength="31.2" lengthAdjust="spacingAndGlyphs" stroke="#000" stroke-width="0.3">0.77</text>
<text x="334.26" y="319.36" font-size="14.2" fill="#000" font-weight="bold" text-anchor="middle" textLength="31.2" lengthAdjust="spacingAndGlyphs" stroke="#000" stroke-width="0.3">0.98</text>
<text x="389.14" y="319.36" font-size="14.2" fill="#000" font-weight="bold" text-anchor="middle" textLength="31.2" lengthAdjust="spacingAndGlyphs" stroke="#000" stroke-width="0.3">0.94</text>
<text x="84.80" y="339.28" font-size="14.2" fill="#000" font-weight="bold" text-anchor="end" textLength="45.4" lengthAdjust="spacingAndGlyphs" stroke="#000" stroke-width="0.3">UBP45</text>
<text x="114.74" y="339.08" font-size="14.2" fill="#000" font-weight="bold" text-anchor="middle" textLength="31.2" lengthAdjust="spacingAndGlyphs" stroke="#000" stroke-width="0.3">0.96</text>
<text x="169.62" y="339.08" font-size="14.2" fill="#000" font-weight="bold" text-anchor="middle" textLength="31.2" lengthAdjust="spacingAndGlyphs" stroke="#000" stroke-width="0.3">0.93</text>
<text x="224.50" y="339.08" font-size="14.2" fill="#000" font-weight="bold" text-anchor="middle" textLength="31.2" lengthAdjust="spacingAndGlyphs" stroke="#000" stroke-width="0.3">0.76</text>
<text x="279.38" y="339.08" font-size="14.2" fill="#000" font-weight="bold" text-anchor="middle" textLength="31.2" lengthAdjust="spacingAndGlyphs" stroke="#000" stroke-width="0.3">0.98</text>
<text x="389.14" y="339.08" font-size="14.2" fill="#000" font-weight="bold" text-anchor="middle" textLength="31.2" lengthAdjust="spacingAndGlyphs" stroke="#000" stroke-width="0.3">0.95</text>
<text x="84.80" y="359.00" font-size="14.2" fill="#000" font-weight="bold" text-anchor="end" textLength="45.4" lengthAdjust="spacingAndGlyphs" stroke="#000" stroke-width="0.3">UBP55</text>
<text x="114.74" y="358.80" font-size="14.2" fill="#000" font-weight="bold" text-anchor="middle" textLength="31.2" lengthAdjust="spacingAndGlyphs" stroke="#000" stroke-width="0.3">0.92</text>
<text x="169.62" y="358.80" font-size="14.2" fill="#000" font-weight="bold" text-anchor="middle" textLength="31.2" lengthAdjust="spacingAndGlyphs" stroke="#000" stroke-width="0.3">0.97</text>
<text x="224.50" y="358.80" font-size="14.2" fill="#000" font-weight="bold" text-anchor="middle" textLength="31.2" lengthAdjust="spacingAndGlyphs" stroke="#000" stroke-width="0.3">0.83</text>
<text x="279.38" y="358.80" font-size="14.2" fill="#000" font-weight="bold" text-anchor="middle" textLength="31.2" lengthAdjust="spacingAndGlyphs" stroke="#000" stroke-width="0.3">0.94</text>
<text x="334.26" y="358.80" font-size="14.2" fill="#000" font-weight="bold" text-anchor="middle" textLength="31.2" lengthAdjust="spacingAndGlyphs" stroke="#000" stroke-width="0.3">0.95</text>
<line x1="293.00" y1="399.90" x2="304.50" y2="399.90" stroke="#231f20" stroke-width="2.8" stroke-linecap="square"/>
<line x1="293.00" y1="412.15" x2="304.50" y2="412.15" stroke="#231f20" stroke-width="2.8" stroke-linecap="square"/>
<line x1="293.00" y1="399.90" x2="293.00" y2="412.15" stroke="#231f20" stroke-width="2.8" stroke-linecap="square"/>
<line x1="300.20" y1="424.40" x2="304.50" y2="424.40" stroke="#231f20" stroke-width="2.8" stroke-linecap="square"/>
<line x1="300.20" y1="436.65" x2="304.50" y2="436.65" stroke="#231f20" stroke-width="2.8" stroke-linecap="square"/>
<line x1="300.20" y1="424.40" x2="300.20" y2="436.65" stroke="#231f20" stroke-width="2.8" stroke-linecap="square"/>
<line x1="298.60" y1="448.90" x2="304.50" y2="448.90" stroke="#231f20" stroke-width="2.8" stroke-linecap="square"/>
<line x1="298.60" y1="461.15" x2="304.50" y2="461.15" stroke="#231f20" stroke-width="2.8" stroke-linecap="square"/>
<line x1="298.60" y1="448.90" x2="298.60" y2="461.15" stroke="#231f20" stroke-width="2.8" stroke-linecap="square"/>
<line x1="298.60" y1="473.40" x2="304.50" y2="473.40" stroke="#231f20" stroke-width="2.8" stroke-linecap="square"/>
<line x1="298.60" y1="485.65" x2="304.50" y2="485.65" stroke="#231f20" stroke-width="2.8" stroke-linecap="square"/>
<line x1="298.60" y1="473.40" x2="298.60" y2="485.65" stroke="#231f20" stroke-width="2.8" stroke-linecap="square"/>
<line x1="298.60" y1="497.90" x2="304.50" y2="497.90" stroke="#231f20" stroke-width="2.8" stroke-linecap="square"/>
<line x1="298.60" y1="510.15" x2="304.50" y2="510.15" stroke="#231f20" stroke-width="2.8" stroke-linecap="square"/>
<line x1="298.60" y1="497.90" x2="298.60" y2="510.15" stroke="#231f20" stroke-width="2.8" stroke-linecap="square"/>
<line x1="294.60" y1="522.40" x2="304.50" y2="522.40" stroke="#231f20" stroke-width="2.8" stroke-linecap="square"/>
<line x1="294.60" y1="534.65" x2="304.50" y2="534.65" stroke="#231f20" stroke-width="2.8" stroke-linecap="square"/>
<line x1="294.60" y1="522.40" x2="294.60" y2="534.65" stroke="#231f20" stroke-width="2.8" stroke-linecap="square"/>
<line x1="283.50" y1="455.02" x2="298.60" y2="455.02" stroke="#231f20" stroke-width="2.8" stroke-linecap="square"/>
<line x1="283.50" y1="479.52" x2="298.60" y2="479.52" stroke="#231f20" stroke-width="2.8" stroke-linecap="square"/>
<line x1="283.50" y1="455.02" x2="283.50" y2="479.52" stroke="#231f20" stroke-width="2.8" stroke-linecap="square"/>
<line x1="258.20" y1="430.52" x2="300.20" y2="430.52" stroke="#231f20" stroke-width="2.8" stroke-linecap="square"/>
<line x1="258.20" y1="467.27" x2="283.50" y2="467.27" stroke="#231f20" stroke-width="2.8" stroke-linecap="square"/>
<line x1="258.20" y1="430.52" x2="258.20" y2="467.27" stroke="#231f20" stroke-width="2.8" stroke-linecap="square"/>
<line x1="273.40" y1="504.02" x2="298.60" y2="504.02" stroke="#231f20" stroke-width="2.8" stroke-linecap="square"/>
<line x1="273.40" y1="528.52" x2="294.60" y2="528.52" stroke="#231f20" stroke-width="2.8" stroke-linecap="square"/>
<line x1="273.40" y1="504.02" x2="273.40" y2="528.52" stroke="#231f20" stroke-width="2.8" stroke-linecap="square"/>
<line x1="238.80" y1="448.90" x2="258.20" y2="448.90" stroke="#231f20" stroke-width="2.8" stroke-linecap="square"/>
<line x1="238.80" y1="516.27" x2="273.40" y2="516.27" stroke="#231f20" stroke-width="2.8" stroke-linecap="square"/>
<line x1="238.80" y1="448.90" x2="238.80" y2="516.27" stroke="#231f20" stroke-width="2.8" stroke-linecap="square"/>
<line x1="111.80" y1="406.02" x2="293.00" y2="406.02" stroke="#231f20" stroke-width="2.8" stroke-linecap="square"/>
<line x1="111.80" y1="482.59" x2="238.80" y2="482.59" stroke="#231f20" stroke-width="2.8" stroke-linecap="square"/>
<line x1="111.80" y1="406.02" x2="111.80" y2="482.59" stroke="#231f20" stroke-width="2.8" stroke-linecap="square"/>
<text x="309.00" y="404.70" font-size="10.5" fill="#231f20" font-weight="normal" text-anchor="start" textLength="38.01" lengthAdjust="spacingAndGlyphs" stroke="#231f20" stroke-width="0.15">Vec55_1</text>
<text x="309.00" y="416.95" font-size="10.5" fill="#231f20" font-weight="normal" text-anchor="start" textLength="38.01" lengthAdjust="spacingAndGlyphs" stroke="#231f20" stroke-width="0.15">Vec55_2</text>
<text x="309.00" y="429.20" font-size="10.5" fill="#231f20" font-weight="normal" text-anchor="start" textLength="38.01" lengthAdjust="spacingAndGlyphs" stroke="#231f20" stroke-width="0.15">Vec30_1</text>
<text x="309.00" y="441.45" font-size="10.5" fill="#231f20" font-weight="normal" text-anchor="start" textLength="38.01" lengthAdjust="spacingAndGlyphs" stroke="#231f20" stroke-width="0.15">Vec30_2</text>
<text x="309.00" y="453.70" font-size="10.5" fill="#231f20" font-weight="normal" text-anchor="start" textLength="41.80" lengthAdjust="spacingAndGlyphs" stroke="#231f20" stroke-width="0.15">UBP30_1</text>
<text x="309.00" y="465.95" font-size="10.5" fill="#231f20" font-weight="normal" text-anchor="start" textLength="41.80" lengthAdjust="spacingAndGlyphs" stroke="#231f20" stroke-width="0.15">UBP30_2</text>
<text x="309.00" y="478.20" font-size="10.5" fill="#231f20" font-weight="normal" text-anchor="start" textLength="41.80" lengthAdjust="spacingAndGlyphs" stroke="#231f20" stroke-width="0.15">UBP45_1</text>
<text x="309.00" y="490.45" font-size="10.5" fill="#231f20" font-weight="normal" text-anchor="start" textLength="41.80" lengthAdjust="spacingAndGlyphs" stroke="#231f20" stroke-width="0.15">UBP45_2</text>
<text x="309.00" y="502.70" font-size="10.5" fill="#231f20" font-weight="normal" text-anchor="start" textLength="38.01" lengthAdjust="spacingAndGlyphs" stroke="#231f20" stroke-width="0.15">Vec45_1</text>
<text x="309.00" y="514.95" font-size="10.5" fill="#231f20" font-weight="normal" text-anchor="start" textLength="38.01" lengthAdjust="spacingAndGlyphs" stroke="#231f20" stroke-width="0.15">Vec45_2</text>
<text x="309.00" y="527.20" font-size="10.5" fill="#231f20" font-weight="normal" text-anchor="start" textLength="41.80" lengthAdjust="spacingAndGlyphs" stroke="#231f20" stroke-width="0.15">UBP55_1</text>
<text x="309.00" y="539.45" font-size="10.5" fill="#231f20" font-weight="normal" text-anchor="start" textLength="41.80" lengthAdjust="spacingAndGlyphs" stroke="#231f20" stroke-width="0.15">UBP55_2</text>
<g shape-rendering="crispEdges">
<rect x="477" y="40" width="28" height="2" fill="#661e62"/>
<rect x="477" y="42" width="28" height="2" fill="#5c1a58"/>
<rect x="477" y="44" width="28" height="3" fill="#320a30"/>
<rect x="477" y="47" width="28" height="4" fill="#20081f"/>
<rect x="477" y="51" width="28" height="1" fill="#aa5099"/>
<rect x="477" y="52" width="28" height="3" fill="#20081f"/>
<rect x="477" y="55" width="28" height="6" fill="#0a1b10"/>
<rect x="477" y="61" width="28" height="1" fill="#320a30"/>
<rect x="477" y="62" width="28" height="2" fill="#983e8c"/>
<rect x="477" y="64" width="28" height="1" fill="#170716"/>
<rect x="477" y="65" width="28" height="5" fill="#84317b"/>
<rect x="477" y="70" width="28" height="1" fill="#aa5099"/>
<rect x="477" y="71" width="28" height="7" fill="#9e4490"/>
<rect x="477" y="78" width="28" height="2" fill="#320a30"/>
<rect x="477" y="80" width="28" height="2" fill="#050505"/>
<rect x="477" y="82" width="28" height="6" fill="#320a30"/>
<rect x="477" y="88" width="28" height="3" fill="#050505"/>
<rect x="477" y="91" width="28" height="3" fill="#0a1b10"/>
<rect x="477" y="94" width="28" height="3" fill="#320a30"/>
<rect x="477" y="97" width="28" height="5" fill="#5c1a58"/>
<rect x="477" y="102" width="28" height="4" fill="#af559d"/>
<rect x="477" y="106" width="28" height="3" fill="#320a30"/>
<rect x="477" y="109" width="28" height="3" fill="#661e62"/>
<rect x="477" y="112" width="28" height="2" fill="#20081f"/>
<rect x="477" y="114" width="28" height="2" fill="#5c1a58"/>
<rect x="477" y="116" width="28" height="2" fill="#20081f"/>
<rect x="477" y="118" width="28" height="2" fill="#3c0e3a"/>
<rect x="477" y="120" width="28" height="2" fill="#290927"/>
<rect x="477" y="122" width="28" height="8" fill="#9e4490"/>
<rect x="477" y="130" width="28" height="2" fill="#290927"/>
<rect x="477" y="132" width="28" height="3" fill="#471244"/>
<rect x="477" y="135" width="28" height="3" fill="#aa5099"/>
<rect x="477" y="138" width="28" height="1" fill="#20081f"/>
<rect x="477" y="139" width="28" height="2" fill="#9e4490"/>
<rect x="477" y="141" width="28" height="4" fill="#661e62"/>
<rect x="477" y="145" width="28" height="7" fill="#20081f"/>
<rect x="477" y="152" width="28" height="5" fill="#8e3884"/>
<rect x="477" y="157" width="28" height="3" fill="#3c0e3a"/>
<rect x="477" y="160" width="28" height="2" fill="#35af5f"/>
<rect x="477" y="162" width="28" height="9" fill="#0d2615"/>
<rect x="477" y="171" width="28" height="4" fill="#0e5f31"/>
<rect x="477" y="175" width="28" height="4" fill="#050505"/>
<rect x="477" y="179" width="28" height="3" fill="#1caa5a"/>
<rect x="477" y="182" width="28" height="3" fill="#0c763c"/>
<rect x="477" y="185" width="28" height="7" fill="#123c20"/>
<rect x="477" y="192" width="28" height="6" fill="#4eb464"/>
<rect x="477" y="198" width="28" height="2" fill="#10a858"/>
<rect x="477" y="200" width="28" height="2" fill="#471244"/>
<rect x="477" y="202" width="28" height="4" fill="#661e62"/>
<rect x="477" y="206" width="28" height="4" fill="#20081f"/>
<rect x="477" y="210" width="28" height="2" fill="#51164e"/>
<rect x="477" y="212" width="28" height="2" fill="#050505"/>
<rect x="477" y="214" width="28" height="6" fill="#123c20"/>
<rect x="477" y="220" width="28" height="2" fill="#08100a"/>
<rect x="477" y="222" width="28" height="2" fill="#0e944d"/>
<rect x="477" y="224" width="28" height="2" fill="#0a1b10"/>
<rect x="477" y="226" width="28" height="2" fill="#5c1a58"/>
<rect x="477" y="228" width="28" height="3" fill="#20081f"/>
<rect x="477" y="231" width="28" height="5" fill="#aa5099"/>
<rect x="477" y="236" width="28" height="4" fill="#08100a"/>
<rect x="477" y="240" width="28" height="4" fill="#170716"/>
<rect x="477" y="244" width="28" height="3" fill="#7a2b73"/>
<rect x="477" y="247" width="28" height="4" fill="#290927"/>
<rect x="477" y="251" width="28" height="8" fill="#08100a"/>
<rect x="477" y="259" width="28" height="4" fill="#471244"/>
<rect x="477" y="263" width="28" height="5" fill="#661e62"/>
<rect x="477" y="268" width="28" height="4" fill="#114826"/>
<rect x="477" y="272" width="28" height="3" fill="#0e944d"/>
<rect x="477" y="275" width="28" height="5" fill="#10532b"/>
<rect x="477" y="280" width="28" height="5" fill="#0c763c"/>
<rect x="477" y="285" width="28" height="4" fill="#0d6a36"/>
<rect x="477" y="289" width="28" height="2" fill="#0f311b"/>
<rect x="477" y="291" width="28" height="1" fill="#0e944d"/>
<rect x="477" y="292" width="28" height="7" fill="#0d6a36"/>
<rect x="477" y="299" width="28" height="2" fill="#0e944d"/>
<rect x="477" y="301" width="28" height="3" fill="#0d2615"/>
<rect x="477" y="304" width="28" height="7" fill="#114826"/>
<rect x="477" y="311" width="28" height="4" fill="#123c20"/>
<rect x="477" y="315" width="28" height="5" fill="#0a1b10"/>
<rect x="477" y="320" width="28" height="2" fill="#123c20"/>
<rect x="477" y="322" width="28" height="4" fill="#0e8a47"/>
<rect x="477" y="326" width="28" height="2" fill="#123c20"/>
<rect x="477" y="328" width="28" height="3" fill="#0d8042"/>
<rect x="477" y="331" width="28" height="5" fill="#114826"/>
<rect x="477" y="336" width="28" height="6" fill="#08100a"/>
<rect x="477" y="342" width="28" height="8" fill="#123c20"/>
<rect x="477" y="350" width="28" height="2" fill="#0f9e52"/>
<rect x="477" y="352" width="28" height="5" fill="#114826"/>
<rect x="477" y="357" width="28" height="1" fill="#0e8a47"/>
<rect x="477" y="358" width="28" height="2" fill="#0a1b10"/>
<rect x="477" y="360" width="28" height="2" fill="#0d2615"/>
<rect x="477" y="362" width="28" height="6" fill="#0d8042"/>
<rect x="477" y="368" width="28" height="1" fill="#0d2615"/>
<rect x="477" y="369" width="28" height="6" fill="#0e5f31"/>
<rect x="477" y="375" width="28" height="2" fill="#0e8a47"/>
<rect x="477" y="377" width="28" height="3" fill="#29ad5d"/>
<rect x="477" y="380" width="28" height="6" fill="#0c763c"/>
<rect x="477" y="386" width="28" height="3" fill="#10a858"/>
<rect x="477" y="389" width="28" height="5" fill="#0c763c"/>
<rect x="477" y="394" width="28" height="3" fill="#35af5f"/>
<rect x="477" y="397" width="28" height="3" fill="#123c20"/>
<rect x="477" y="400" width="28" height="2" fill="#0a1b10"/>
<rect x="477" y="402" width="28" height="7" fill="#0d8042"/>
<rect x="477" y="409" width="28" height="3" fill="#0f311b"/>
<rect x="477" y="412" width="28" height="2" fill="#0d6a36"/>
<rect x="477" y="414" width="28" height="3" fill="#1caa5a"/>
<rect x="477" y="417" width="28" height="5" fill="#0d6a36"/>
<rect x="477" y="422" width="28" height="4" fill="#08100a"/>
<rect x="477" y="426" width="28" height="2" fill="#0e5f31"/>
<rect x="477" y="428" width="28" height="6" fill="#0f311b"/>
<rect x="477" y="434" width="28" height="6" fill="#0a1b10"/>
<rect x="477" y="440" width="28" height="6" fill="#0f311b"/>
<rect x="477" y="446" width="28" height="2" fill="#0a1b10"/>
<rect x="477" y="448" width="28" height="7" fill="#050505"/>
<rect x="477" y="455" width="28" height="2" fill="#5c1a58"/>
<rect x="477" y="457" width="28" height="2" fill="#050505"/>
<rect x="477" y="459" width="28" height="4" fill="#123c20"/>
<rect x="477" y="463" width="28" height="6" fill="#0a1b10"/>
<rect x="477" y="469" width="28" height="2" fill="#320a30"/>
<rect x="477" y="471" width="28" height="6" fill="#050505"/>
<rect x="477" y="477" width="28" height="3" fill="#0f9e52"/>
<rect x="477" y="480" width="28" height="1" fill="#10a858"/>
<rect x="477" y="481" width="28" height="5" fill="#0d2615"/>
<rect x="477" y="486" width="28" height="5" fill="#0d6a36"/>
<rect x="477" y="491" width="28" height="3" fill="#1caa5a"/>
<rect x="477" y="494" width="28" height="4" fill="#41b262"/>
<rect x="477" y="498" width="28" height="9" fill="#4eb464"/>
<rect x="477" y="507" width="28" height="3" fill="#114826"/>
<rect x="477" y="510" width="28" height="4" fill="#0d2615"/>
<rect x="477" y="514" width="28" height="7" fill="#41b262"/>
<rect x="477" y="521" width="28" height="4" fill="#20081f"/>
<rect x="505" y="40" width="28" height="2" fill="#123c20"/>
<rect x="505" y="42" width="28" height="3" fill="#10a858"/>
<rect x="505" y="45" width="28" height="3" fill="#123c20"/>
<rect x="505" y="48" width="28" height="2" fill="#0d8042"/>
<rect x="505" y="50" width="28" height="1" fill="#0a1b10"/>
<rect x="505" y="51" width="28" height="6" fill="#1caa5a"/>
<rect x="505" y="57" width="28" height="2" fill="#123c20"/>
<rect x="505" y="59" width="28" height="6" fill="#170716"/>
<rect x="505" y="65" width="28" height="5" fill="#123c20"/>
<rect x="505" y="70" width="28" height="2" fill="#08100a"/>
<rect x="505" y="72" width="28" height="1" fill="#51164e"/>
<rect x="505" y="73" width="28" height="3" fill="#0f311b"/>
<rect x="505" y="76" width="28" height="4" fill="#050505"/>
<rect x="505" y="80" width="28" height="4" fill="#050505"/>
<rect x="505" y="84" width="28" height="2" fill="#0f311b"/>
<rect x="505" y="86" width="28" height="5" fill="#51164e"/>
<rect x="505" y="91" width="28" height="3" fill="#050505"/>
<rect x="505" y="94" width="28" height="4" fill="#320a30"/>
<rect x="505" y="98" width="28" height="3" fill="#123c20"/>
<rect x="505" y="101" width="28" height="1" fill="#20081f"/>
<rect x="505" y="102" width="28" height="4" fill="#70246a"/>
<rect x="505" y="106" width="28" height="2" fill="#20081f"/>
<rect x="505" y="108" width="28" height="4" fill="#0a1b10"/>
<rect x="505" y="112" width="28" height="8" fill="#20081f"/>
<rect x="505" y="120" width="28" height="2" fill="#290927"/>
<rect x="505" y="122" width="28" height="4" fill="#0f311b"/>
<rect x="505" y="126" width="28" height="5" fill="#050505"/>
<rect x="505" y="131" width="28" height="3" fill="#5c1a58"/>
<rect x="505" y="134" width="28" height="3" fill="#471244"/>
<rect x="505" y="137" width="28" height="1" fill="#7a2b73"/>
<rect x="505" y="138" width="28" height="8" fill="#320a30"/>
<rect x="505" y="146" width="28" height="2" fill="#050505"/>
<rect x="505" y="148" width="28" height="4" fill="#0d2615"/>
<rect x="505" y="152" width="28" height="4" fill="#10a858"/>
<rect x="505" y="156" width="28" height="4" fill="#0f311b"/>
<rect x="505" y="160" width="28" height="5" fill="#050505"/>
<rect x="505" y="165" width="28" height="6" fill="#3c0e3a"/>
<rect x="505" y="171" width="28" height="4" fill="#9e4490"/>
<rect x="505" y="175" width="28" height="5" fill="#661e62"/>
<rect x="505" y="180" width="28" height="6" fill="#320a30"/>
<rect x="505" y="186" width="28" height="6" fill="#0a1b10"/>
<rect x="505" y="192" width="28" height="6" fill="#08100a"/>
<rect x="505" y="198" width="28" height="2" fill="#20081f"/>
<rect x="505" y="200" width="28" height="3" fill="#320a30"/>
<rect x="505" y="203" width="28" height="3" fill="#70246a"/>
<rect x="505" y="206" width="28" height="4" fill="#20081f"/>
<rect x="505" y="210" width="28" height="4" fill="#983e8c"/>
<rect x="505" y="214" width="28" height="2" fill="#51164e"/>
<rect x="505" y="216" width="28" height="3" fill="#7a2b73"/>
<rect x="505" y="219" width="28" height="5" fill="#a44a95"/>
<rect x="505" y="224" width="28" height="2" fill="#290927"/>
<rect x="505" y="226" width="28" height="2" fill="#29ad5d"/>
<rect x="505" y="228" width="28" height="3" fill="#0d2615"/>
<rect x="505" y="231" width="28" height="1" fill="#3c0e3a"/>
<rect x="505" y="232" width="28" height="6" fill="#050505"/>
<rect x="505" y="238" width="28" height="2" fill="#320a30"/>
<rect x="505" y="240" width="28" height="2" fill="#050505"/>
<rect x="505" y="242" width="28" height="6" fill="#123c20"/>
<rect x="505" y="248" width="28" height="3" fill="#0e944d"/>
<rect x="505" y="251" width="28" height="3" fill="#0a1b10"/>
<rect x="505" y="254" width="28" height="4" fill="#51164e"/>
<rect x="505" y="258" width="28" height="6" fill="#20081f"/>
<rect x="505" y="264" width="28" height="4" fill="#5c1a58"/>
<rect x="505" y="268" width="28" height="3" fill="#0e060e"/>
<rect x="505" y="271" width="28" height="9" fill="#0a1b10"/>
<rect x="505" y="280" width="28" height="5" fill="#050505"/>
<rect x="505" y="285" width="28" height="5" fill="#0d2615"/>
<rect x="505" y="290" width="28" height="2" fill="#0e5f31"/>
<rect x="505" y="292" width="28" height="7" fill="#0a1b10"/>
<rect x="505" y="299" width="28" height="2" fill="#0c763c"/>
<rect x="505" y="301" width="28" height="3" fill="#050505"/>
<rect x="505" y="304" width="28" height="5" fill="#3c0e3a"/>
<rect x="505" y="309" width="28" height="2" fill="#20081f"/>
<rect x="505" y="311" width="28" height="9" fill="#0e060e"/>
<rect x="505" y="320" width="28" height="2" fill="#050505"/>
<rect x="505" y="322" width="28" height="9" fill="#320a30"/>
<rect x="505" y="331" width="28" height="5" fill="#3c0e3a"/>
<rect x="505" y="336" width="28" height="6" fill="#170716"/>
<rect x="505" y="342" width="28" height="1" fill="#5c1a58"/>
<rect x="505" y="343" width="28" height="3" fill="#3c0e3a"/>
<rect x="505" y="346" width="28" height="4" fill="#661e62"/>
<rect x="505" y="350" width="28" height="2" fill="#7a2b73"/>
<rect x="505" y="352" width="28" height="5" fill="#70246a"/>
<rect x="505" y="357" width="28" height="3" fill="#51164e"/>
<rect x="505" y="360" width="28" height="8" fill="#70246a"/>
<rect x="505" y="368" width="28" height="8" fill="#320a30"/>
<rect x="505" y="376" width="28" height="9" fill="#3c0e3a"/>
<rect x="505" y="385" width="28" height="4" fill="#51164e"/>
<rect x="505" y="389" width="28" height="5" fill="#5c1a58"/>
<rect x="505" y="394" width="28" height="4" fill="#84317b"/>
<rect x="505" y="398" width="28" height="2" fill="#471244"/>
<rect x="505" y="400" width="28" height="2" fill="#471244"/>
<rect x="505" y="402" width="28" height="6" fill="#123c20"/>
<rect x="505" y="408" width="28" height="6" fill="#0e060e"/>
<rect x="505" y="414" width="28" height="4" fill="#114826"/>
<rect x="505" y="418" width="28" height="4" fill="#0d2615"/>
<rect x="505" y="422" width="28" height="4" fill="#0f9e52"/>
<rect x="505" y="426" width="28" height="4" fill="#114826"/>
<rect x="505" y="430" width="28" height="2" fill="#0d2615"/>
<rect x="505" y="432" width="28" height="3" fill="#0d6a36"/>
<rect x="505" y="435" width="28" height="5" fill="#0f311b"/>
<rect x="505" y="440" width="28" height="4" fill="#0e5f31"/>
<rect x="505" y="444" width="28" height="4" fill="#0e944d"/>
<rect x="505" y="448" width="28" height="2" fill="#0e5f31"/>
<rect x="505" y="450" width="28" height="4" fill="#41b262"/>
<rect x="505" y="454" width="28" height="3" fill="#0f9e52"/>
<rect x="505" y="457" width="28" height="2" fill="#114826"/>
<rect x="505" y="459" width="28" height="2" fill="#0c763c"/>
<rect x="505" y="461" width="28" height="1" fill="#123c20"/>
<rect x="505" y="462" width="28" height="2" fill="#0e8a47"/>
<rect x="505" y="464" width="28" height="5" fill="#0e5f31"/>
<rect x="505" y="469" width="28" height="3" fill="#0d2615"/>
<rect x="505" y="472" width="28" height="6" fill="#114826"/>
<rect x="505" y="478" width="28" height="2" fill="#51164e"/>
<rect x="505" y="480" width="28" height="1" fill="#050505"/>
<rect x="505" y="481" width="28" height="3" fill="#661e62"/>
<rect x="505" y="484" width="28" height="3" fill="#8e3884"/>
<rect x="505" y="487" width="28" height="4" fill="#51164e"/>
<rect x="505" y="491" width="28" height="7" fill="#51164e"/>
<rect x="505" y="498" width="28" height="3" fill="#9e4490"/>
<rect x="505" y="501" width="28" height="5" fill="#aa5099"/>
<rect x="505" y="506" width="28" height="3" fill="#51164e"/>
<rect x="505" y="509" width="28" height="2" fill="#9e4490"/>
<rect x="505" y="511" width="28" height="5" fill="#661e62"/>
<rect x="505" y="516" width="28" height="4" fill="#8e3884"/>
<rect x="505" y="520" width="28" height="1" fill="#51164e"/>
<rect x="505" y="521" width="28" height="4" fill="#0e060e"/>
<rect x="533" y="40" width="29" height="4" fill="#320a30"/>
<rect x="533" y="44" width="29" height="4" fill="#08100a"/>
<rect x="533" y="48" width="29" height="1" fill="#10532b"/>
<rect x="533" y="49" width="29" height="3" fill="#0d2615"/>
<rect x="533" y="52" width="29" height="1" fill="#050505"/>
<rect x="533" y="53" width="29" height="3" fill="#0d2615"/>
<rect x="533" y="56" width="29" height="1" fill="#10532b"/>
<rect x="533" y="57" width="29" height="9" fill="#290927"/>
<rect x="533" y="66" width="29" height="1" fill="#050505"/>
<rect x="533" y="67" width="29" height="3" fill="#0d8042"/>
<rect x="533" y="70" width="29" height="2" fill="#123c20"/>
<rect x="533" y="72" width="29" height="2" fill="#1caa5a"/>
<rect x="533" y="74" width="29" height="1" fill="#0d2615"/>
<rect x="533" y="75" width="29" height="4" fill="#29ad5d"/>
<rect x="533" y="79" width="29" height="1" fill="#0d2615"/>
<rect x="533" y="80" width="29" height="2" fill="#0d2615"/>
<rect x="533" y="82" width="29" height="3" fill="#0e5f31"/>
<rect x="533" y="85" width="29" height="3" fill="#10a858"/>
<rect x="533" y="88" width="29" height="2" fill="#10532b"/>
<rect x="533" y="90" width="29" height="2" fill="#0e944d"/>
<rect x="533" y="92" width="29" height="3" fill="#08100a"/>
<rect x="533" y="95" width="29" height="3" fill="#35af5f"/>
<rect x="533" y="98" width="29" height="1" fill="#0e8a47"/>
<rect x="533" y="99" width="29" height="3" fill="#1caa5a"/>
<rect x="533" y="102" width="29" height="1" fill="#0e5f31"/>
<rect x="533" y="103" width="29" height="4" fill="#4eb464"/>
<rect x="533" y="107" width="29" height="2" fill="#1caa5a"/>
<rect x="533" y="109" width="29" height="2" fill="#0c763c"/>
<rect x="533" y="111" width="29" height="7" fill="#4eb464"/>
<rect x="533" y="118" width="29" height="2" fill="#35af5f"/>
<rect x="533" y="120" width="29" height="2" fill="#0f9e52"/>
<rect x="533" y="122" width="29" height="7" fill="#4eb464"/>
<rect x="533" y="129" width="29" height="3" fill="#1caa5a"/>
<rect x="533" y="132" width="29" height="6" fill="#4eb464"/>
<rect x="533" y="138" width="29" height="1" fill="#0e8a47"/>
<rect x="533" y="139" width="29" height="7" fill="#4eb464"/>
<rect x="533" y="146" width="29" height="2" fill="#0c763c"/>
<rect x="533" y="148" width="29" height="4" fill="#10a858"/>
<rect x="533" y="152" width="29" height="4" fill="#4eb464"/>
<rect x="533" y="156" width="29" height="4" fill="#10a858"/>
<rect x="533" y="160" width="29" height="2" fill="#35af5f"/>
<rect x="533" y="162" width="29" height="4" fill="#123c20"/>
<rect x="533" y="166" width="29" height="5" fill="#0e8a47"/>
<rect x="533" y="171" width="29" height="9" fill="#4eb464"/>
<rect x="533" y="180" width="29" height="5" fill="#0f311b"/>
<rect x="533" y="185" width="29" height="5" fill="#050505"/>
<rect x="533" y="190" width="29" height="2" fill="#290927"/>
<rect x="533" y="192" width="29" height="3" fill="#8e3884"/>
<rect x="533" y="195" width="29" height="5" fill="#08100a"/>
<rect x="533" y="200" width="29" height="2" fill="#0a1b10"/>
<rect x="533" y="202" width="29" height="4" fill="#5c1a58"/>
<rect x="533" y="206" width="29" height="4" fill="#0d2615"/>
<rect x="533" y="210" width="29" height="5" fill="#10a858"/>
<rect x="533" y="215" width="29" height="4" fill="#0e5f31"/>
<rect x="533" y="219" width="29" height="6" fill="#0a1b10"/>
<rect x="533" y="225" width="29" height="3" fill="#9e4490"/>
<rect x="533" y="228" width="29" height="2" fill="#320a30"/>
<rect x="533" y="230" width="29" height="6" fill="#a44a95"/>
<rect x="533" y="236" width="29" height="4" fill="#84317b"/>
<rect x="533" y="240" width="29" height="2" fill="#7a2b73"/>
<rect x="533" y="242" width="29" height="27" fill="#af559d"/>
<rect x="533" y="269" width="29" height="2" fill="#84317b"/>
<rect x="533" y="271" width="29" height="14" fill="#aa5099"/>
<rect x="533" y="285" width="29" height="1" fill="#84317b"/>
<rect x="533" y="286" width="29" height="13" fill="#ac529b"/>
<rect x="533" y="299" width="29" height="1" fill="#9e4490"/>
<rect x="533" y="300" width="29" height="2" fill="#aa5099"/>
<rect x="533" y="302" width="29" height="2" fill="#8e3884"/>
<rect x="533" y="304" width="29" height="32" fill="#ac529b"/>
<rect x="533" y="336" width="29" height="1" fill="#983e8c"/>
<rect x="533" y="337" width="29" height="5" fill="#ac529b"/>
<rect x="533" y="342" width="29" height="1" fill="#84317b"/>
<rect x="533" y="343" width="29" height="3" fill="#983e8c"/>
<rect x="533" y="346" width="29" height="4" fill="#7a2b73"/>
<rect x="533" y="350" width="29" height="2" fill="#a44a95"/>
<rect x="533" y="352" width="29" height="6" fill="#983e8c"/>
<rect x="533" y="358" width="29" height="2" fill="#a44a95"/>
<rect x="533" y="360" width="29" height="8" fill="#ac529b"/>
<rect x="533" y="368" width="29" height="2" fill="#983e8c"/>
<rect x="533" y="370" width="29" height="5" fill="#aa5099"/>
<rect x="533" y="375" width="29" height="3" fill="#9e4490"/>
<rect x="533" y="378" width="29" height="17" fill="#aa5099"/>
<rect x="533" y="395" width="29" height="5" fill="#a44a95"/>
<rect x="533" y="400" width="29" height="8" fill="#983e8c"/>
<rect x="533" y="408" width="29" height="3" fill="#3c0e3a"/>
<rect x="533" y="411" width="29" height="3" fill="#70246a"/>
<rect x="533" y="414" width="29" height="2" fill="#9e4490"/>
<rect x="533" y="416" width="29" height="2" fill="#3c0e3a"/>
<rect x="533" y="418" width="29" height="18" fill="#ac529b"/>
<rect x="533" y="436" width="29" height="4" fill="#8e3884"/>
<rect x="533" y="440" width="29" height="5" fill="#a44a95"/>
<rect x="533" y="445" width="29" height="3" fill="#983e8c"/>
<rect x="533" y="448" width="29" height="2" fill="#5c1a58"/>
<rect x="533" y="450" width="29" height="4" fill="#a44a95"/>
<rect x="533" y="454" width="29" height="3" fill="#7a2b73"/>
<rect x="533" y="457" width="29" height="2" fill="#983e8c"/>
<rect x="533" y="459" width="29" height="4" fill="#7a2b73"/>
<rect x="533" y="463" width="29" height="5" fill="#a44a95"/>
<rect x="533" y="468" width="29" height="3" fill="#7a2b73"/>
<rect x="533" y="471" width="29" height="1" fill="#471244"/>
<rect x="533" y="472" width="29" height="8" fill="#84317b"/>
<rect x="533" y="480" width="29" height="1" fill="#661e62"/>
<rect x="533" y="481" width="29" height="7" fill="#3c0e3a"/>
<rect x="533" y="488" width="29" height="4" fill="#70246a"/>
<rect x="533" y="492" width="29" height="2" fill="#8e3884"/>
<rect x="533" y="494" width="29" height="4" fill="#aa5099"/>
<rect x="533" y="498" width="29" height="1" fill="#51164e"/>
<rect x="533" y="499" width="29" height="4" fill="#983e8c"/>
<rect x="533" y="503" width="29" height="2" fill="#7a2b73"/>
<rect x="533" y="505" width="29" height="1" fill="#9e4490"/>
<rect x="533" y="506" width="29" height="4" fill="#290927"/>
<rect x="533" y="510" width="29" height="3" fill="#7a2b73"/>
<rect x="533" y="513" width="29" height="2" fill="#5c1a58"/>
<rect x="533" y="515" width="29" height="6" fill="#aa5099"/>
<rect x="533" y="521" width="29" height="4" fill="#471244"/>
<rect x="562" y="40" width="28" height="4" fill="#20081f"/>
<rect x="562" y="44" width="28" height="3" fill="#661e62"/>
<rect x="562" y="47" width="28" height="2" fill="#7a2b73"/>
<rect x="562" y="49" width="28" height="2" fill="#471244"/>
<rect x="562" y="51" width="28" height="3" fill="#70246a"/>
<rect x="562" y="54" width="28" height="2" fill="#3c0e3a"/>
<rect x="562" y="56" width="28" height="2" fill="#7a2b73"/>
<rect x="562" y="58" width="28" height="1" fill="#661e62"/>
<rect x="562" y="59" width="28" height="3" fill="#51164e"/>
<rect x="562" y="62" width="28" height="2" fill="#050505"/>
<rect x="562" y="64" width="28" height="3" fill="#661e62"/>
<rect x="562" y="67" width="28" height="4" fill="#0d2615"/>
<rect x="562" y="71" width="28" height="3" fill="#20081f"/>
<rect x="562" y="74" width="28" height="4" fill="#0a1b10"/>
<rect x="562" y="78" width="28" height="2" fill="#471244"/>
<rect x="562" y="80" width="28" height="2" fill="#3c0e3a"/>
<rect x="562" y="82" width="28" height="2" fill="#661e62"/>
<rect x="562" y="84" width="28" height="3" fill="#320a30"/>
<rect x="562" y="87" width="28" height="7" fill="#050505"/>
<rect x="562" y="94" width="28" height="4" fill="#0e5f31"/>
<rect x="562" y="98" width="28" height="6" fill="#290927"/>
<rect x="562" y="104" width="28" height="2" fill="#84317b"/>
<rect x="562" y="106" width="28" height="2" fill="#290927"/>
<rect x="562" y="108" width="28" height="4" fill="#a44a95"/>
<rect x="562" y="112" width="28" height="4" fill="#7a2b73"/>
<rect x="562" y="116" width="28" height="4" fill="#3c0e3a"/>
<rect x="562" y="120" width="28" height="3" fill="#661e62"/>
<rect x="562" y="123" width="28" height="6" fill="#983e8c"/>
<rect x="562" y="129" width="28" height="8" fill="#3c0e3a"/>
<rect x="562" y="137" width="28" height="1" fill="#9e4490"/>
<rect x="562" y="138" width="28" height="10" fill="#471244"/>
<rect x="562" y="148" width="28" height="7" fill="#983e8c"/>
<rect x="562" y="155" width="28" height="5" fill="#661e62"/>
<rect x="562" y="160" width="28" height="2" fill="#9e4490"/>
<rect x="562" y="162" width="28" height="9" fill="#471244"/>
<rect x="562" y="171" width="28" height="3" fill="#70246a"/>
<rect x="562" y="174" width="28" height="2" fill="#51164e"/>
<rect x="562" y="176" width="28" height="3" fill="#050505"/>
<rect x="562" y="179" width="28" height="6" fill="#3c0e3a"/>
<rect x="562" y="185" width="28" height="6" fill="#661e62"/>
<rect x="562" y="191" width="28" height="1" fill="#320a30"/>
<rect x="562" y="192" width="28" height="3" fill="#a44a95"/>
<rect x="562" y="195" width="28" height="1" fill="#320a30"/>
<rect x="562" y="196" width="28" height="3" fill="#983e8c"/>
<rect x="562" y="199" width="28" height="1" fill="#320a30"/>
<rect x="562" y="200" width="28" height="1" fill="#0d2615"/>
<rect x="562" y="201" width="28" height="5" fill="#35af5f"/>
<rect x="562" y="206" width="28" height="4" fill="#114826"/>
<rect x="562" y="210" width="28" height="2" fill="#08100a"/>
<rect x="562" y="212" width="28" height="7" fill="#050505"/>
<rect x="562" y="219" width="28" height="1" fill="#0f311b"/>
<rect x="562" y="220" width="28" height="4" fill="#1caa5a"/>
<rect x="562" y="224" width="28" height="2" fill="#0a1b10"/>
<rect x="562" y="226" width="28" height="3" fill="#0e5f31"/>
<rect x="562" y="229" width="28" height="2" fill="#0d2615"/>
<rect x="562" y="231" width="28" height="5" fill="#10a858"/>
<rect x="562" y="236" width="28" height="4" fill="#08100a"/>
<rect x="562" y="240" width="28" height="1" fill="#123c20"/>
<rect x="562" y="241" width="28" height="7" fill="#1caa5a"/>
<rect x="562" y="248" width="28" height="2" fill="#0c763c"/>
<rect x="562" y="250" width="28" height="4" fill="#0e5f31"/>
<rect x="562" y="254" width="28" height="3" fill="#0e944d"/>
<rect x="562" y="257" width="28" height="2" fill="#114826"/>
<rect x="562" y="259" width="28" height="5" fill="#29ad5d"/>
<rect x="562" y="264" width="28" height="4" fill="#41b262"/>
<rect x="562" y="268" width="28" height="2" fill="#123c20"/>
<rect x="562" y="270" width="28" height="5" fill="#0c763c"/>
<rect x="562" y="275" width="28" height="5" fill="#0d2615"/>
<rect x="562" y="280" width="28" height="2" fill="#0f311b"/>
<rect x="562" y="282" width="28" height="4" fill="#0e060e"/>
<rect x="562" y="286" width="28" height="3" fill="#0d2615"/>
<rect x="562" y="289" width="28" height="4" fill="#0e944d"/>
<rect x="562" y="293" width="28" height="3" fill="#123c20"/>
<rect x="562" y="296" width="28" height="2" fill="#0d6a36"/>
<rect x="562" y="298" width="28" height="3" fill="#0f311b"/>
<rect x="562" y="301" width="28" height="3" fill="#0d2615"/>
<rect x="562" y="304" width="28" height="5" fill="#10a858"/>
<rect x="562" y="309" width="28" height="2" fill="#0d6a36"/>
<rect x="562" y="311" width="28" height="3" fill="#123c20"/>
<rect x="562" y="314" width="28" height="3" fill="#0e8a47"/>
<rect x="562" y="317" width="28" height="3" fill="#114826"/>
<rect x="562" y="320" width="28" height="4" fill="#0f311b"/>
<rect x="562" y="324" width="28" height="5" fill="#114826"/>
<rect x="562" y="329" width="28" height="7" fill="#0d6a36"/>
<rect x="562" y="336" width="28" height="6" fill="#0f311b"/>
<rect x="562" y="342" width="28" height="5" fill="#0c763c"/>
<rect x="562" y="347" width="28" height="3" fill="#0e5f31"/>
<rect x="562" y="350" width="28" height="2" fill="#0f9e52"/>
<rect x="562" y="352" width="28" height="4" fill="#0d6a36"/>
<rect x="562" y="356" width="28" height="2" fill="#35af5f"/>
<rect x="562" y="358" width="28" height="2" fill="#10532b"/>
<rect x="562" y="360" width="28" height="8" fill="#0e8a47"/>
<rect x="562" y="368" width="28" height="14" fill="#114826"/>
<rect x="562" y="382" width="28" height="5" fill="#0a1b10"/>
<rect x="562" y="387" width="28" height="3" fill="#0e5f31"/>
<rect x="562" y="390" width="28" height="4" fill="#0f311b"/>
<rect x="562" y="394" width="28" height="4" fill="#1caa5a"/>
<rect x="562" y="398" width="28" height="2" fill="#08100a"/>
<rect x="562" y="400" width="28" height="2" fill="#170716"/>
<rect x="562" y="402" width="28" height="7" fill="#983e8c"/>
<rect x="562" y="409" width="28" height="3" fill="#51164e"/>
<rect x="562" y="412" width="28" height="4" fill="#050505"/>
<rect x="562" y="416" width="28" height="6" fill="#290927"/>
<rect x="562" y="422" width="28" height="9" fill="#0d2615"/>
<rect x="562" y="431" width="28" height="7" fill="#050505"/>
<rect x="562" y="438" width="28" height="2" fill="#0d2615"/>
<rect x="562" y="440" width="28" height="4" fill="#320a30"/>
<rect x="562" y="444" width="28" height="5" fill="#08100a"/>
<rect x="562" y="449" width="28" height="2" fill="#5c1a58"/>
<rect x="562" y="451" width="28" height="5" fill="#3c0e3a"/>
<rect x="562" y="456" width="28" height="3" fill="#050505"/>
<rect x="562" y="459" width="28" height="5" fill="#5c1a58"/>
<rect x="562" y="464" width="28" height="5" fill="#290927"/>
<rect x="562" y="469" width="28" height="2" fill="#661e62"/>
<rect x="562" y="471" width="28" height="7" fill="#471244"/>
<rect x="562" y="478" width="28" height="2" fill="#70246a"/>
<rect x="562" y="480" width="28" height="1" fill="#0d2615"/>
<rect x="562" y="481" width="28" height="3" fill="#0e5f31"/>
<rect x="562" y="484" width="28" height="7" fill="#0f9e52"/>
<rect x="562" y="491" width="28" height="3" fill="#08100a"/>
<rect x="562" y="494" width="28" height="5" fill="#123c20"/>
<rect x="562" y="499" width="28" height="6" fill="#0d8042"/>
<rect x="562" y="505" width="28" height="3" fill="#050505"/>
<rect x="562" y="508" width="28" height="6" fill="#0f9e52"/>
<rect x="562" y="514" width="28" height="5" fill="#35af5f"/>
<rect x="562" y="519" width="28" height="2" fill="#0c763c"/>
<rect x="562" y="521" width="28" height="4" fill="#0f311b"/>
<rect x="590" y="40" width="28" height="3" fill="#320a30"/>
<rect x="590" y="43" width="28" height="3" fill="#9e4490"/>
<rect x="590" y="46" width="28" height="2" fill="#320a30"/>
<rect x="590" y="48" width="28" height="2" fill="#3c0e3a"/>
<rect x="590" y="50" width="28" height="2" fill="#661e62"/>
<rect x="590" y="52" width="28" height="5" fill="#70246a"/>
<rect x="590" y="57" width="28" height="6" fill="#290927"/>
<rect x="590" y="63" width="28" height="2" fill="#050505"/>
<rect x="590" y="65" width="28" height="1" fill="#123c20"/>
<rect x="590" y="66" width="28" height="4" fill="#84317b"/>
<rect x="590" y="70" width="28" height="1" fill="#320a30"/>
<rect x="590" y="71" width="28" height="2" fill="#51164e"/>
<rect x="590" y="73" width="28" height="3" fill="#320a30"/>
<rect x="590" y="76" width="28" height="4" fill="#661e62"/>
<rect x="590" y="80" width="28" height="3" fill="#320a30"/>
<rect x="590" y="83" width="28" height="3" fill="#84317b"/>
<rect x="590" y="86" width="28" height="5" fill="#983e8c"/>
<rect x="590" y="91" width="28" height="3" fill="#51164e"/>
<rect x="590" y="94" width="28" height="7" fill="#983e8c"/>
<rect x="590" y="101" width="28" height="5" fill="#320a30"/>
<rect x="590" y="106" width="28" height="5" fill="#661e62"/>
<rect x="590" y="111" width="28" height="3" fill="#7a2b73"/>
<rect x="590" y="114" width="28" height="2" fill="#5c1a58"/>
<rect x="590" y="116" width="28" height="4" fill="#983e8c"/>
<rect x="590" y="120" width="28" height="4" fill="#84317b"/>
<rect x="590" y="124" width="28" height="5" fill="#51164e"/>
<rect x="590" y="129" width="28" height="6" fill="#5c1a58"/>
<rect x="590" y="135" width="28" height="3" fill="#8e3884"/>
<rect x="590" y="138" width="28" height="10" fill="#320a30"/>
<rect x="590" y="148" width="28" height="3" fill="#5c1a58"/>
<rect x="590" y="151" width="28" height="5" fill="#7a2b73"/>
<rect x="590" y="156" width="28" height="4" fill="#290927"/>
<rect x="590" y="160" width="28" height="2" fill="#84317b"/>
<rect x="590" y="162" width="28" height="12" fill="#471244"/>
<rect x="590" y="174" width="28" height="1" fill="#8e3884"/>
<rect x="590" y="175" width="28" height="5" fill="#471244"/>
<rect x="590" y="180" width="28" height="4" fill="#5c1a58"/>
<rect x="590" y="184" width="28" height="12" fill="#3c0e3a"/>
<rect x="590" y="196" width="28" height="4" fill="#661e62"/>
<rect x="590" y="200" width="28" height="1" fill="#0d2615"/>
<rect x="590" y="201" width="28" height="5" fill="#0d2615"/>
<rect x="590" y="206" width="28" height="4" fill="#661e62"/>
<rect x="590" y="210" width="28" height="2" fill="#08100a"/>
<rect x="590" y="212" width="28" height="2" fill="#0e5f31"/>
<rect x="590" y="214" width="28" height="7" fill="#290927"/>
<rect x="590" y="221" width="28" height="3" fill="#3c0e3a"/>
<rect x="590" y="224" width="28" height="4" fill="#0d2615"/>
<rect x="590" y="228" width="28" height="3" fill="#08100a"/>
<rect x="590" y="231" width="28" height="4" fill="#0e8a47"/>
<rect x="590" y="235" width="28" height="3" fill="#0a1b10"/>
<rect x="590" y="238" width="28" height="2" fill="#0d6a36"/>
<rect x="590" y="240" width="28" height="4" fill="#123c20"/>
<rect x="590" y="244" width="28" height="4" fill="#114826"/>
<rect x="590" y="248" width="28" height="2" fill="#0d6a36"/>
<rect x="590" y="250" width="28" height="5" fill="#0a1b10"/>
<rect x="590" y="255" width="28" height="5" fill="#0e5f31"/>
<rect x="590" y="260" width="28" height="5" fill="#0d8042"/>
<rect x="590" y="265" width="28" height="3" fill="#1caa5a"/>
<rect x="590" y="268" width="28" height="2" fill="#050505"/>
<rect x="590" y="270" width="28" height="10" fill="#0d2615"/>
<rect x="590" y="280" width="28" height="2" fill="#0d2615"/>
<rect x="590" y="282" width="28" height="8" fill="#0f311b"/>
<rect x="590" y="290" width="28" height="9" fill="#114826"/>
<rect x="590" y="299" width="28" height="5" fill="#0d6a36"/>
<rect x="590" y="304" width="28" height="4" fill="#123c20"/>
<rect x="590" y="308" width="28" height="3" fill="#0e8a47"/>
<rect x="590" y="311" width="28" height="3" fill="#0c763c"/>
<rect x="590" y="314" width="28" height="6" fill="#114826"/>
<rect x="590" y="320" width="28" height="8" fill="#114826"/>
<rect x="590" y="328" width="28" height="2" fill="#0e8a47"/>
<rect x="590" y="330" width="28" height="6" fill="#0e5f31"/>
<rect x="590" y="336" width="28" height="3" fill="#0a1b10"/>
<rect x="590" y="339" width="28" height="4" fill="#0e8a47"/>
<rect x="590" y="343" width="28" height="7" fill="#10532b"/>
<rect x="590" y="350" width="28" height="2" fill="#0e944d"/>
<rect x="590" y="352" width="28" height="8" fill="#0f311b"/>
<rect x="590" y="360" width="28" height="3" fill="#0d2615"/>
<rect x="590" y="363" width="28" height="5" fill="#10532b"/>
<rect x="590" y="368" width="28" height="10" fill="#0d2615"/>
<rect x="590" y="378" width="28" height="4" fill="#0d6a36"/>
<rect x="590" y="382" width="28" height="5" fill="#114826"/>
<rect x="590" y="387" width="28" height="4" fill="#08100a"/>
<rect x="590" y="391" width="28" height="2" fill="#0f311b"/>
<rect x="590" y="393" width="28" height="5" fill="#0e5f31"/>
<rect x="590" y="398" width="28" height="2" fill="#0a1b10"/>
<rect x="590" y="400" width="28" height="2" fill="#0d2615"/>
<rect x="590" y="402" width="28" height="4" fill="#123c20"/>
<rect x="590" y="406" width="28" height="8" fill="#20081f"/>
<rect x="590" y="414" width="28" height="7" fill="#290927"/>
<rect x="590" y="421" width="28" height="5" fill="#0e060e"/>
<rect x="590" y="426" width="28" height="5" fill="#08100a"/>
<rect x="590" y="431" width="28" height="4" fill="#123c20"/>
<rect x="590" y="435" width="28" height="5" fill="#0d2615"/>
<rect x="590" y="440" width="28" height="2" fill="#050505"/>
<rect x="590" y="442" width="28" height="7" fill="#0d2615"/>
<rect x="590" y="449" width="28" height="4" fill="#3c0e3a"/>
<rect x="590" y="453" width="28" height="2" fill="#70246a"/>
<rect x="590" y="455" width="28" height="4" fill="#08100a"/>
<rect x="590" y="459" width="28" height="5" fill="#320a30"/>
<rect x="590" y="464" width="28" height="5" fill="#51164e"/>
<rect x="590" y="469" width="28" height="9" fill="#050505"/>
<rect x="590" y="478" width="28" height="2" fill="#10a858"/>
<rect x="590" y="480" width="28" height="2" fill="#320a30"/>
<rect x="590" y="482" width="28" height="4" fill="#0f311b"/>
<rect x="590" y="486" width="28" height="3" fill="#050505"/>
<rect x="590" y="489" width="28" height="5" fill="#20081f"/>
<rect x="590" y="494" width="28" height="4" fill="#114826"/>
<rect x="590" y="498" width="28" height="2" fill="#320a30"/>
<rect x="590" y="500" width="28" height="6" fill="#0d6a36"/>
<rect x="590" y="506" width="28" height="3" fill="#050505"/>
<rect x="590" y="509" width="28" height="2" fill="#0f9e52"/>
<rect x="590" y="511" width="28" height="3" fill="#123c20"/>
<rect x="590" y="514" width="28" height="7" fill="#35af5f"/>
<rect x="590" y="521" width="28" height="1" fill="#114826"/>
<rect x="590" y="522" width="28" height="3" fill="#5c1a58"/>
<rect x="618" y="40" width="29" height="2" fill="#0d6a36"/>
<rect x="618" y="42" width="29" height="4" fill="#1caa5a"/>
<rect x="618" y="46" width="29" height="2" fill="#0e5f31"/>
<rect x="618" y="48" width="29" height="3" fill="#0f311b"/>
<rect x="618" y="51" width="29" height="1" fill="#10a858"/>
<rect x="618" y="52" width="29" height="2" fill="#050505"/>
<rect x="618" y="54" width="29" height="4" fill="#0f311b"/>
<rect x="618" y="58" width="29" height="6" fill="#0e8a47"/>
<rect x="618" y="64" width="29" height="1" fill="#10a858"/>
<rect x="618" y="65" width="29" height="4" fill="#0d6a36"/>
<rect x="618" y="69" width="29" height="3" fill="#08100a"/>
<rect x="618" y="72" width="29" height="2" fill="#1caa5a"/>
<rect x="618" y="74" width="29" height="6" fill="#10532b"/>
<rect x="618" y="80" width="29" height="2" fill="#0e8a47"/>
<rect x="618" y="82" width="29" height="8" fill="#0e5f31"/>
<rect x="618" y="90" width="29" height="4" fill="#08100a"/>
<rect x="618" y="94" width="29" height="2" fill="#290927"/>
<rect x="618" y="96" width="29" height="4" fill="#050505"/>
<rect x="618" y="100" width="29" height="4" fill="#0d6a36"/>
<rect x="618" y="104" width="29" height="3" fill="#0c763c"/>
<rect x="618" y="107" width="29" height="3" fill="#0d2615"/>
<rect x="618" y="110" width="29" height="2" fill="#123c20"/>
<rect x="618" y="112" width="29" height="8" fill="#170716"/>
<rect x="618" y="120" width="29" height="4" fill="#0f311b"/>
<rect x="618" y="124" width="29" height="5" fill="#050505"/>
<rect x="618" y="129" width="29" height="3" fill="#0a1b10"/>
<rect x="618" y="132" width="29" height="5" fill="#170716"/>
<rect x="618" y="137" width="29" height="2" fill="#0d2615"/>
<rect x="618" y="139" width="29" height="9" fill="#290927"/>
<rect x="618" y="148" width="29" height="3" fill="#114826"/>
<rect x="618" y="151" width="29" height="9" fill="#050505"/>
<rect x="618" y="160" width="29" height="4" fill="#170716"/>
<rect x="618" y="164" width="29" height="6" fill="#123c20"/>
<rect x="618" y="170" width="29" height="10" fill="#51164e"/>
<rect x="618" y="180" width="29" height="5" fill="#050505"/>
<rect x="618" y="185" width="29" height="7" fill="#114826"/>
<rect x="618" y="192" width="29" height="4" fill="#20081f"/>
<rect x="618" y="196" width="29" height="4" fill="#050505"/>
<rect x="618" y="200" width="29" height="1" fill="#123c20"/>
<rect x="618" y="201" width="29" height="7" fill="#290927"/>
<rect x="618" y="208" width="29" height="4" fill="#20081f"/>
<rect x="618" y="212" width="29" height="7" fill="#290927"/>
<rect x="618" y="219" width="29" height="2" fill="#050505"/>
<rect x="618" y="221" width="29" height="5" fill="#661e62"/>
<rect x="618" y="226" width="29" height="3" fill="#20081f"/>
<rect x="618" y="229" width="29" height="2" fill="#123c20"/>
<rect x="618" y="231" width="29" height="5" fill="#4eb464"/>
<rect x="618" y="236" width="29" height="2" fill="#0c763c"/>
<rect x="618" y="238" width="29" height="2" fill="#114826"/>
<rect x="618" y="240" width="29" height="4" fill="#5c1a58"/>
<rect x="618" y="244" width="29" height="4" fill="#0f311b"/>
<rect x="618" y="248" width="29" height="2" fill="#0c763c"/>
<rect x="618" y="250" width="29" height="5" fill="#0d2615"/>
<rect x="618" y="255" width="29" height="2" fill="#050505"/>
<rect x="618" y="257" width="29" height="7" fill="#123c20"/>
<rect x="618" y="264" width="29" height="3" fill="#0e5f31"/>
<rect x="618" y="267" width="29" height="2" fill="#050505"/>
<rect x="618" y="269" width="29" height="6" fill="#3c0e3a"/>
<rect x="618" y="275" width="29" height="3" fill="#050505"/>
<rect x="618" y="278" width="29" height="2" fill="#0d2615"/>
<rect x="618" y="280" width="29" height="2" fill="#0d2615"/>
<rect x="618" y="282" width="29" height="4" fill="#0d6a36"/>
<rect x="618" y="286" width="29" height="2" fill="#0f311b"/>
<rect x="618" y="288" width="29" height="2" fill="#050505"/>
<rect x="618" y="290" width="29" height="4" fill="#114826"/>
<rect x="618" y="294" width="29" height="9" fill="#123c20"/>
<rect x="618" y="303" width="29" height="5" fill="#08100a"/>
<rect x="618" y="308" width="29" height="3" fill="#050505"/>
<rect x="618" y="311" width="29" height="3" fill="#20081f"/>
<rect x="618" y="314" width="29" height="6" fill="#0d2615"/>
<rect x="618" y="320" width="29" height="4" fill="#0a1b10"/>
<rect x="618" y="324" width="29" height="6" fill="#0d2615"/>
<rect x="618" y="330" width="29" height="6" fill="#08100a"/>
<rect x="618" y="336" width="29" height="3" fill="#10532b"/>
<rect x="618" y="339" width="29" height="3" fill="#10a858"/>
<rect x="618" y="342" width="29" height="10" fill="#290927"/>
<rect x="618" y="352" width="29" height="6" fill="#050505"/>
<rect x="618" y="358" width="29" height="2" fill="#0d2615"/>
<rect x="618" y="360" width="29" height="2" fill="#0a1b10"/>
<rect x="618" y="362" width="29" height="13" fill="#050505"/>
<rect x="618" y="375" width="29" height="6" fill="#320a30"/>
<rect x="618" y="381" width="29" height="11" fill="#0d2615"/>
<rect x="618" y="392" width="29" height="5" fill="#661e62"/>
<rect x="618" y="397" width="29" height="3" fill="#0d2615"/>
<rect x="618" y="400" width="29" height="2" fill="#08100a"/>
<rect x="618" y="402" width="29" height="7" fill="#114826"/>
<rect x="618" y="409" width="29" height="3" fill="#0d2615"/>
<rect x="618" y="412" width="29" height="6" fill="#0a1b10"/>
<rect x="618" y="418" width="29" height="5" fill="#114826"/>
<rect x="618" y="423" width="29" height="2" fill="#29ad5d"/>
<rect x="618" y="425" width="29" height="4" fill="#123c20"/>
<rect x="618" y="429" width="29" height="4" fill="#0c763c"/>
<rect x="618" y="433" width="29" height="3" fill="#123c20"/>
<rect x="618" y="436" width="29" height="4" fill="#0e5f31"/>
<rect x="618" y="440" width="29" height="4" fill="#10532b"/>
<rect x="618" y="444" width="29" height="6" fill="#050505"/>
<rect x="618" y="450" width="29" height="4" fill="#0e5f31"/>
<rect x="618" y="454" width="29" height="3" fill="#08100a"/>
<rect x="618" y="457" width="29" height="7" fill="#0d2615"/>
<rect x="618" y="464" width="29" height="6" fill="#1caa5a"/>
<rect x="618" y="470" width="29" height="1" fill="#35af5f"/>
<rect x="618" y="471" width="29" height="7" fill="#123c20"/>
<rect x="618" y="478" width="29" height="2" fill="#290927"/>
<rect x="618" y="480" width="29" height="1" fill="#661e62"/>
<rect x="618" y="481" width="29" height="3" fill="#050505"/>
<rect x="618" y="484" width="29" height="7" fill="#290927"/>
<rect x="618" y="491" width="29" height="8" fill="#5c1a58"/>
<rect x="618" y="499" width="29" height="8" fill="#aa5099"/>
<rect x="618" y="507" width="29" height="3" fill="#290927"/>
<rect x="618" y="510" width="29" height="4" fill="#7a2b73"/>
<rect x="618" y="514" width="29" height="7" fill="#aa5099"/>
<rect x="618" y="521" width="29" height="4" fill="#0c763c"/>
</g>
<text transform="translate(490.22,35.2) rotate(-47)" x="0" y="0" font-size="12.6" font-style="italic" fill="#505050" textLength="29.48" lengthAdjust="spacingAndGlyphs">Vec30</text>
<text transform="translate(518.44,35.2) rotate(-47)" x="0" y="0" font-size="12.6" font-style="italic" fill="#505050" textLength="29.48" lengthAdjust="spacingAndGlyphs">Vec45</text>
<text transform="translate(546.67,35.2) rotate(-47)" x="0" y="0" font-size="12.6" font-style="italic" fill="#505050" textLength="29.48" lengthAdjust="spacingAndGlyphs">Vec55</text>
<text transform="translate(574.90,35.2) rotate(-47)" x="0" y="0" font-size="12.6" font-style="italic" fill="#505050" textLength="32.95" lengthAdjust="spacingAndGlyphs">UBP30</text>
<text transform="translate(603.13,35.2) rotate(-47)" x="0" y="0" font-size="12.6" font-style="italic" fill="#505050" textLength="32.95" lengthAdjust="spacingAndGlyphs">UBP45</text>
<text transform="translate(631.37,35.2) rotate(-47)" x="0" y="0" font-size="12.6" font-style="italic" fill="#505050" textLength="32.95" lengthAdjust="spacingAndGlyphs">UBP55</text>
<defs><linearGradient id="cb" x1="0" y1="0" x2="0" y2="1">
<stop offset="0.0000" stop-color="rgb(96, 184, 104)"/>
<stop offset="0.1512" stop-color="rgb(16, 168, 88)"/>
<stop offset="0.2674" stop-color="rgb(12, 118, 60)"/>
<stop offset="0.3837" stop-color="rgb(18, 60, 32)"/>
<stop offset="0.5000" stop-color="rgb(5, 5, 5)"/>
<stop offset="0.6163" stop-color="rgb(50, 10, 48)"/>
<stop offset="0.7326" stop-color="rgb(102, 30, 98)"/>
<stop offset="0.8488" stop-color="rgb(152, 62, 140)"/>
<stop offset="1.0000" stop-color="rgb(190, 100, 168)"/>
</linearGradient></defs>
<rect x="657.2" y="40.7" width="15" height="115.2" fill="url(#cb)"/>
<line x1="676" y1="40.4" x2="676" y2="155" stroke="#111" stroke-width="1.4"/>
<line x1="676" y1="45.10" x2="677.6" y2="45.10" stroke="#231f20" stroke-width="0.8"/>
<text x="678.40" y="46.70" font-size="4.6" fill="#231f20" font-weight="normal" text-anchor="start" >2</text>
<line x1="676" y1="58.55" x2="677.6" y2="58.55" stroke="#231f20" stroke-width="0.8"/>
<text x="678.40" y="60.15" font-size="4.6" fill="#231f20" font-weight="normal" text-anchor="start" >1.5</text>
<line x1="676" y1="72.00" x2="677.6" y2="72.00" stroke="#231f20" stroke-width="0.8"/>
<text x="678.40" y="73.60" font-size="4.6" fill="#231f20" font-weight="normal" text-anchor="start" >1</text>
<line x1="676" y1="85.45" x2="677.6" y2="85.45" stroke="#231f20" stroke-width="0.8"/>
<text x="678.40" y="87.05" font-size="4.6" fill="#231f20" font-weight="normal" text-anchor="start" >0.5</text>
<line x1="676" y1="98.90" x2="677.6" y2="98.90" stroke="#231f20" stroke-width="0.8"/>
<text x="678.40" y="100.50" font-size="4.6" fill="#231f20" font-weight="normal" text-anchor="start" >0</text>
<line x1="676" y1="112.35" x2="677.6" y2="112.35" stroke="#231f20" stroke-width="0.8"/>
<text x="678.40" y="113.95" font-size="4.6" fill="#231f20" font-weight="normal" text-anchor="start" >-0.5</text>
<line x1="676" y1="125.80" x2="677.6" y2="125.80" stroke="#231f20" stroke-width="0.8"/>
<text x="678.40" y="127.40" font-size="4.6" fill="#231f20" font-weight="normal" text-anchor="start" >-1</text>
<line x1="676" y1="139.25" x2="677.6" y2="139.25" stroke="#231f20" stroke-width="0.8"/>
<text x="678.40" y="140.85" font-size="4.6" fill="#231f20" font-weight="normal" text-anchor="start" >-1.5</text>
<line x1="676" y1="152.70" x2="677.6" y2="152.70" stroke="#231f20" stroke-width="0.8"/>
<text x="678.40" y="154.30" font-size="4.6" fill="#231f20" font-weight="normal" text-anchor="start" >-2</text>
</svg>
</body></html>
